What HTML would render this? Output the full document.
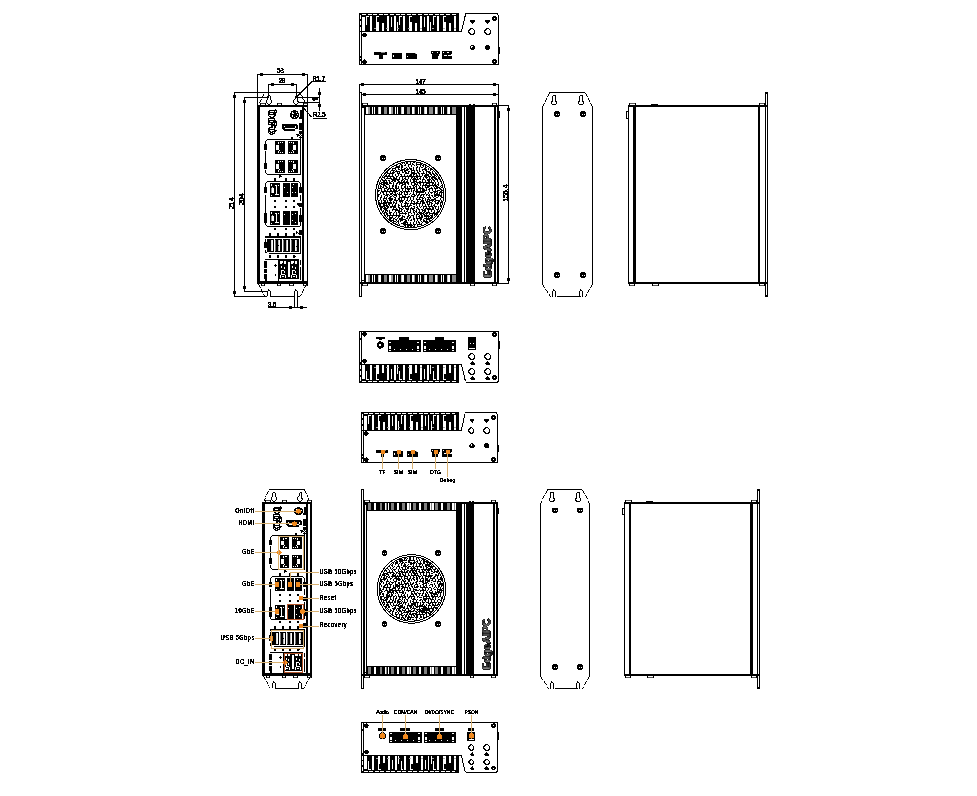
<!DOCTYPE html>
<html lang="en"><head><meta charset="utf-8"><title>Dimensions and I/O</title>
<style>
html,body{margin:0;padding:0;background:#fff;}
body{width:977px;height:796px;overflow:hidden;}
svg{display:block;font-family:"Liberation Sans",sans-serif;}
</style></head><body>
<svg width="977" height="796" viewBox="0 0 977 796" shape-rendering="crispEdges">
<defs><filter id="th" x="-10%" y="-10%" width="120%" height="120%" color-interpolation-filters="sRGB"><feComponentTransfer><feFuncA type="discrete" tableValues="0 0 1 1 1"/></feComponentTransfer></filter></defs>
<rect width="977" height="796" fill="#fff"/>
<path fill="#000" d="M359 13h1v52h-1zM359 64h140v1h-140zM498 15h1v50h-1zM466 13h32v1h-32zM497 14h1v1h-1zM361 13h1v52h-1zM360 16h1v2h-1zM360 20h1v2h-1zM360 25h1v2h-1zM360 56h1v2h-1zM360 59h1v2h-1zM359 13h100v19h-100z"/>
<path fill="#fff" d="M362 14h4v1h-4zM368 14h4v1h-4zM373 14h4v1h-4zM379 14h4v1h-4zM384 14h4v1h-4zM390 14h4v1h-4zM396 14h4v1h-4zM401 14h4v1h-4zM407 14h4v1h-4zM412 14h4v1h-4zM418 14h4v1h-4zM424 14h4v1h-4zM429 14h4v1h-4zM435 14h4v1h-4zM440 14h4v1h-4zM446 14h4v1h-4zM452 14h4v1h-4zM362 17h3v14h-3zM360 15h1v4h-1zM360 21h1v4h-1zM360 27h1v4h-1zM366 16h1v9h-1zM366 16h3v1h-3zM370 16h2v15h-2zM376 17h1v14h-1zM376 16h3v1h-3zM377 22h2v9h-2zM382 23h2v8h-2zM387 16h2v15h-2zM388 27h1v4h-1zM391 17h1v10h-1zM394 16h2v15h-2zM397 22h1v9h-1zM399 16h1v9h-1zM399 16h3v1h-3zM403 16h2v15h-2zM409 17h1v14h-1zM409 16h3v1h-3zM410 22h2v9h-2zM415 23h2v8h-2zM420 16h2v15h-2zM421 27h1v4h-1zM424 17h1v10h-1zM427 16h2v15h-2zM430 22h1v9h-1zM433 16h1v9h-1zM433 16h3v1h-3zM437 16h2v15h-2zM443 17h1v14h-1zM443 16h3v1h-3zM444 22h2v9h-2zM449 23h2v8h-2zM454 16h2v15h-2zM455 27h1v4h-1z"/>
<path fill="#aaa" d="M374 28h2v1h-2zM386 28h2v1h-2zM397 28h2v1h-2zM408 28h2v1h-2zM420 28h2v1h-2zM432 28h2v1h-2zM443 28h2v1h-2zM454 28h2v1h-2z"/>
<path fill="#000" d="M459 31h3v1h-3z"/>
<line x1="461.50" y1="31.50" x2="465.50" y2="14.50" stroke="#000" stroke-width="1"/>
<path fill="#000" d="M465 13h2v1h-2zM499 47h1v7h-1zM363 33h3v1h-3zM362 34h5v1h-5zM362 35h5v1h-5zM363 36h3v1h-3zM364 59h1v1h-1zM363 60h3v1h-3zM362 61h5v1h-5zM362 62h5v1h-5zM363 63h3v1h-3zM493 16h3v1h-3zM492 17h5v1h-5zM492 18h5v1h-5zM492 19h5v1h-5zM493 20h3v1h-3z"/>
<path fill="#fff" d="M494 18h1v1h-1z"/>
<path fill="#000" d="M493 59h3v1h-3zM492 60h5v1h-5zM492 61h5v1h-5zM492 62h5v1h-5zM493 63h3v1h-3z"/>
<path fill="#fff" d="M494 61h1v1h-1z"/>
<path fill="#000" d="M374 52h13v3h-13zM379 55h4v4h-4z"/>
<path fill="#888" d="M381 52h4v1h-4z"/>
<path fill="#000" d="M392 53h10v6h-10z"/>
<path fill="#fff" d="M393 55h1v2h-1z"/>
<path fill="#000" d="M406 53h11v6h-11z"/>
<path fill="#fff" d="M407 56h1v1h-1zM416 53h1v1h-1z"/>
<path fill="#999" d="M415 53h1v1h-1z"/>
<path fill="#000" d="M431 51h9v3h-9zM432 54h7v2h-7zM432 56h6v3h-6z"/>
<path fill="#fff" d="M432 52h1v1h-1zM437 52h1v1h-1z"/>
<path fill="#000" d="M442 51h10v8h-10z"/>
<path fill="#fff" d="M443 52h1v1h-1zM447 52h2v1h-2zM444 55h3v1h-3zM448 55h4v1h-4zM451 54h1v1h-1z"/>
<path fill="#000" d="M470 20h5v1h-5zM470 21h5v1h-5zM471 22h3v1h-3zM472 23h1v1h-1zM470 28h3v1h-3zM469 29h2v1h-2zM473 29h1v1h-1zM468 30h2v1h-2zM474 30h1v1h-1zM468 31h1v1h-1zM474 31h1v1h-1zM468 32h2v1h-2zM474 32h1v1h-1zM469 33h2v1h-2zM473 33h2v1h-2zM470 34h4v1h-4zM485 20h5v1h-5zM485 21h5v1h-5zM486 22h3v1h-3zM487 23h1v1h-1zM486 28h3v1h-3zM485 29h2v1h-2zM489 29h1v1h-1zM484 30h2v1h-2zM490 30h1v1h-1zM484 31h1v1h-1zM490 31h1v1h-1zM484 32h2v1h-2zM490 32h1v1h-1zM485 33h2v1h-2zM489 33h2v1h-2zM486 34h4v1h-4zM471 45h3v1h-3zM470 46h5v1h-5zM470 47h5v1h-5zM470 48h5v1h-5zM471 49h3v1h-3z"/>
<path fill="#fff" d="M471 46h2v2h-2z"/>
<path fill="#000" d="M472 47h1v1h-1zM486 45h3v1h-3zM485 46h5v1h-5zM485 47h5v1h-5zM485 48h5v1h-5zM486 49h3v1h-3zM264 92h37v1h-37zM263 94h1v1h-1zM263 95h1v1h-1zM262 96h1v1h-1zM262 97h1v1h-1zM261 99h1v1h-1zM260 100h1v1h-1zM260 101h1v1h-1zM259 102h1v1h-1zM300 93h1v1h-1zM300 94h1v1h-1zM301 95h1v1h-1zM302 96h1v1h-1zM302 98h1v1h-1zM303 99h1v1h-1zM304 100h1v1h-1zM304 101h1v1h-1zM305 103h1v1h-1zM268 95h2v1h-2zM267 96h1v1h-1zM270 96h1v1h-1zM267 97h1v1h-1zM270 97h1v1h-1zM267 98h1v1h-1zM270 98h1v1h-1zM267 99h1v1h-1zM270 99h1v1h-1zM266 100h1v1h-1zM271 100h1v1h-1zM266 101h1v1h-1zM271 101h1v1h-1zM266 102h1v1h-1zM271 102h1v1h-1zM267 103h1v1h-1zM270 103h1v1h-1zM268 104h2v1h-2zM296 95h2v1h-2zM295 96h1v1h-1zM297 96h1v1h-1zM295 97h1v1h-1zM297 97h1v1h-1zM295 98h1v1h-1zM297 98h1v1h-1zM294 99h1v1h-1zM297 99h1v1h-1zM293 100h1v1h-1zM297 100h1v1h-1zM293 101h1v1h-1zM297 101h2v1h-2zM293 102h1v1h-1zM298 102h1v1h-1zM294 103h1v1h-1zM297 103h1v1h-1zM295 104h2v1h-2z"/>
<path fill="#444" d="M260 103h6v1h-6z"/>
<path fill="#000" d="M260 103h1v2h-1zM265 103h1v2h-1z"/>
<path fill="#444" d="M277 103h5v1h-5z"/>
<path fill="#000" d="M277 103h1v2h-1zM281 103h1v2h-1z"/>
<path fill="#444" d="M303 103h5v1h-5z"/>
<path fill="#000" d="M303 103h1v2h-1zM307 103h1v2h-1zM257 105h3v179h-3zM257 105h51v2h-51zM302 105h2v179h-2zM307 105h1v179h-1zM257 281h51v3h-51zM275 109h1v1h-1zM269 110h8v1h-8zM268 111h2v1h-2zM274 111h1v1h-1zM276 111h1v1h-1zM268 112h9v1h-9zM268 113h2v1h-2zM273 113h3v1h-3zM268 114h8v1h-8zM268 115h1v1h-1zM274 115h2v1h-2zM269 116h2v1h-2zM273 116h2v1h-2zM270 117h4v1h-4zM268 118h7v1h-7zM268 119h1v1h-1zM274 119h1v1h-1zM268 120h8v1h-8zM268 121h2v1h-2zM273 121h4v1h-4zM268 122h9v1h-9zM268 123h1v1h-1zM271 123h2v1h-2zM274 123h1v1h-1zM276 123h1v1h-1zM268 124h7v1h-7zM276 124h1v1h-1zM271 125h6v1h-6zM271 126h2v1h-2zM274 126h2v1h-2zM269 127h4v1h-4zM274 127h2v1h-2zM268 128h2v1h-2zM274 128h1v1h-1zM268 129h7v1h-7zM268 130h2v1h-2zM274 130h3v1h-3zM268 131h3v1h-3zM272 131h4v1h-4zM268 132h1v1h-1zM270 132h3v1h-3zM274 132h1v1h-1zM269 133h2v1h-2zM272 133h3v1h-3zM270 134h3v1h-3zM293 110h3v1h-3zM291 111h7v1h-7zM291 112h1v1h-1zM293 112h3v1h-3zM297 112h1v1h-1zM290 113h2v1h-2zM294 113h5v1h-5zM290 114h7v1h-7zM298 114h1v1h-1zM290 115h2v1h-2zM293 115h6v1h-6zM290 116h2v1h-2zM293 116h3v1h-3zM297 116h2v1h-2zM291 117h3v1h-3zM295 117h3v1h-3zM292 118h5v1h-5zM300 110h2v9h-2zM299 117h3v2h-3zM299 123h3v7h-3zM299 131h3v3h-3zM282 124h15v1h-15zM282 125h16v1h-16zM282 126h2v1h-2zM285 126h10v1h-10zM296 126h2v1h-2zM282 127h13v1h-13zM296 127h2v1h-2zM282 128h3v1h-3zM295 128h3v1h-3zM283 129h12v1h-12zM284 130h11v1h-11zM296 134h3v1h-3zM297 135h2v1h-2zM297 136h1v1h-1zM299 134h3v4h-3z"/>
<path fill="#fff" d="M299 134h1v1h-1zM301 134h1v1h-1zM300 135h1v1h-1zM299 136h1v1h-1zM301 136h1v1h-1z"/>
<path fill="#000" d="M267 139h34v1h-34zM265 141h1v3h-1zM265 151h1v12h-1zM265 170h1v3h-1zM267 174h34v1h-34zM266 140h1v1h-1zM266 173h1v1h-1zM300 138h1v37h-1zM291 137h2v2h-2zM264 144h3v6h-3zM264 163h3v6h-3zM275 141h10v13h-10z"/>
<path fill="#fff" d="M276 145h3v5h-3zM278 142h1v2h-1zM280 142h1v1h-1zM282 142h1v1h-1zM278 151h1v2h-1zM280 152h1v1h-1zM282 152h1v1h-1zM279 150h1v1h-1z"/>
<path fill="#000" d="M288 141h10v13h-10z"/>
<path fill="#fff" d="M293 145h3v5h-3zM293 142h1v2h-1zM291 142h1v1h-1zM289 142h1v1h-1zM293 151h1v2h-1zM291 152h1v1h-1zM289 152h1v1h-1zM292 150h1v1h-1z"/>
<path fill="#000" d="M275 160h10v13h-10z"/>
<path fill="#fff" d="M276 164h3v5h-3zM278 161h1v2h-1zM280 161h1v1h-1zM282 161h1v1h-1zM278 170h1v2h-1zM280 171h1v1h-1zM282 171h1v1h-1zM279 169h1v1h-1z"/>
<path fill="#000" d="M288 160h10v13h-10z"/>
<path fill="#fff" d="M293 164h3v5h-3zM293 161h1v2h-1zM291 161h1v1h-1zM289 161h1v1h-1zM293 170h1v2h-1zM291 171h1v1h-1zM289 171h1v1h-1zM292 169h1v1h-1z"/>
<path fill="#000" d="M279 175h2v2h-2zM279 177h1v1h-1zM281 176h1v1h-1zM274 178h2v3h-2zM285 178h2v3h-2zM293 178h2v3h-2zM267 181h32v1h-32zM266 182h1v1h-1zM265 183h1v4h-1zM265 195h1v18h-1zM265 223h1v2h-1zM266 225h1v1h-1zM267 226h33v1h-33zM299 182h1v1h-1zM300 183h1v4h-1zM300 195h1v6h-1zM300 208h1v7h-1zM300 222h1v4h-1zM264 187h3v6h-3zM264 213h3v10h-3zM299 187h3v6h-3zM299 203h3v4h-3zM299 215h3v7h-3zM297 203h2v1h-2zM297 204h2v1h-2zM298 205h1v1h-1zM270 183h10v14h-10z"/>
<path fill="#fff" d="M271 184h1v2h-1zM278 185h1v1h-1z"/>
<path fill="#999" d="M271 188h1v5h-1z"/>
<path fill="#fff" d="M272 188h2v5h-2z"/>
<path fill="#bbb" d="M272 187h1v1h-1z"/>
<path fill="#fff" d="M275 185h2v1h-2zM276 186h1v8h-1zM275 194h4v1h-4zM271 195h1v1h-1z"/>
<path fill="#000" d="M270 211h10v14h-10z"/>
<path fill="#fff" d="M271 212h1v2h-1zM278 213h1v1h-1z"/>
<path fill="#999" d="M271 216h1v5h-1z"/>
<path fill="#fff" d="M272 216h2v5h-2z"/>
<path fill="#bbb" d="M272 215h1v1h-1z"/>
<path fill="#fff" d="M275 213h2v1h-2zM276 214h1v8h-1zM275 222h4v1h-4zM271 223h1v1h-1z"/>
<path fill="#000" d="M283 183h7v14h-7z"/>
<path fill="#fff" d="M284 187h1v1h-1zM287 192h1v1h-1z"/>
<path fill="#000" d="M291 183h7v14h-7z"/>
<path fill="#fff" d="M293 184h1v1h-1zM292 187h1v1h-1zM292 192h1v1h-1zM295 192h1v1h-1z"/>
<path fill="#000" d="M283 211h7v14h-7z"/>
<path fill="#fff" d="M284 214h1v1h-1z"/>
<path fill="#000" d="M291 211h7v14h-7z"/>
<path fill="#fff" d="M295 213h1v1h-1zM292 214h1v1h-1zM292 220h1v1h-1zM295 222h1v1h-1z"/>
<path fill="#000" d="M274 200h2v2h-2zM285 200h2v2h-2zM293 200h2v2h-2zM274 206h2v2h-2zM285 206h2v2h-2zM293 206h2v2h-2zM274 228h2v2h-2zM285 228h2v2h-2zM293 228h2v2h-2zM299 230h3v5h-3zM296 231h1v3h-1zM297 232h1v1h-1zM298 233h1v1h-1zM269 233h2v3h-2zM277 233h2v3h-2zM285 233h2v3h-2zM293 233h2v3h-2zM265 236h36v2h-36zM300 238h1v15h-1zM269 253h32v1h-32zM264 242h4v6h-4zM265 239h1v3h-1zM265 250h1v3h-1zM266 252h1v1h-1zM267 239h7v13h-7zM275 239h7v13h-7zM283 239h7v13h-7zM291 239h7v13h-7z"/>
<path fill="#fff" d="M271 240h2v11h-2z"/>
<path fill="#ddd" d="M271 240h1v11h-1z"/>
<path fill="#777" d="M275 240h1v11h-1z"/>
<path fill="#fff" d="M279 240h1v11h-1z"/>
<path fill="#bbb" d="M278 240h1v11h-1z"/>
<path fill="#000" d="M278 245h1v1h-1z"/>
<path fill="#777" d="M283 240h1v11h-1z"/>
<path fill="#fff" d="M287 240h1v11h-1z"/>
<path fill="#bbb" d="M286 240h1v11h-1z"/>
<path fill="#777" d="M291 240h1v11h-1z"/>
<path fill="#fff" d="M295 240h1v11h-1z"/>
<path fill="#ccc" d="M296 240h1v11h-1z"/>
<path fill="#000" d="M296 246h1v1h-1zM298 239h1v13h-1zM269 255h2v3h-2zM277 255h2v3h-2zM285 255h2v3h-2zM293 255h2v3h-2zM295 256h1v1h-1zM265 259h34v1h-34zM264 261h3v7h-3zM264 269h3v4h-3zM264 274h3v5h-3zM265 279h2v2h-2zM278 260h1v22h-1zM267 281h12v1h-12zM275 264h1v3h-1zM274 265h3v1h-3zM275 274h1v2h-1zM279 260h20v19h-20z"/>
<path fill="#fff" d="M280 261h3v3h-3zM284 261h2v3h-2z"/>
<path fill="#000" d="M282 263h1v1h-1z"/>
<path fill="#fff" d="M281 266h1v2h-1zM284 267h1v2h-1zM281 270h3v1h-3zM281 271h1v3h-1zM284 271h1v2h-1zM281 274h4v1h-4zM282 276h2v1h-2zM280 275h1v3h-1zM285 275h1v3h-1zM291 261h3v3h-3zM295 261h2v3h-2z"/>
<path fill="#000" d="M293 263h1v1h-1z"/>
<path fill="#fff" d="M292 266h1v2h-1zM295 267h1v2h-1zM292 270h3v1h-3zM292 271h1v3h-1zM295 271h1v2h-1zM292 274h4v1h-4zM293 276h2v1h-2zM291 275h1v3h-1zM296 275h1v3h-1zM288 262h2v15h-2z"/>
<path fill="#000" d="M300 260h1v5h-1zM300 267h1v13h-1z"/>
<path fill="#444" d="M261 285h4v1h-4z"/>
<path fill="#000" d="M261 284h1v2h-1zM264 284h1v2h-1z"/>
<path fill="#444" d="M277 285h4v1h-4z"/>
<path fill="#000" d="M277 284h1v2h-1zM280 284h1v2h-1z"/>
<path fill="#444" d="M289 285h5v1h-5z"/>
<path fill="#000" d="M289 284h1v2h-1zM293 284h1v2h-1z"/>
<path fill="#444" d="M303 285h5v1h-5z"/>
<path fill="#000" d="M303 284h1v2h-1zM307 284h1v2h-1zM258 284h1v1h-1zM259 285h1v1h-1zM259 286h1v1h-1zM260 287h1v1h-1zM261 289h1v1h-1zM261 290h1v1h-1zM262 291h1v1h-1zM262 292h1v1h-1zM263 294h1v1h-1zM264 295h1v1h-1zM306 284h1v1h-1zM305 285h1v1h-1zM305 286h1v1h-1zM304 287h1v1h-1zM303 289h1v1h-1zM303 290h1v1h-1zM302 291h1v1h-1zM302 292h1v1h-1zM301 294h1v1h-1zM300 295h1v1h-1zM271 296h23v1h-23zM298 296h2v1h-2zM267 291h1v5h-1zM270 291h1v6h-1zM268 290h2v1h-2zM268 289h1v1h-1zM294 291h1v6h-1zM297 291h1v6h-1zM295 290h2v1h-2zM295 289h1v1h-1zM257 74h51v1h-51zM257 74h1v31h-1zM307 74h1v31h-1zM260 73h3v3h-3zM302 73h3v3h-3z"/>
<text filter="url(#th)" transform="translate(280.50 73.00) scale(0.85 1)" font-size="7" text-anchor="middle" fill="#000" font-weight="normal" stroke="#000" stroke-width="0.4">53</text>
<path fill="#000" d="M268 84h29v1h-29zM268 84h1v14h-1zM296 84h1v14h-1zM271 83h3v3h-3zM291 83h3v3h-3z"/>
<text filter="url(#th)" transform="translate(282.00 83.00) scale(0.85 1)" font-size="7" text-anchor="middle" fill="#000" font-weight="normal" stroke="#000" stroke-width="0.4">29</text>
<path fill="#000" d="M234 92h31v1h-31zM234 92h1v205h-1zM233 95h3v3h-3zM233 291h3v3h-3zM234 296h33v1h-33zM244 97h25v1h-25zM244 97h1v195h-1zM243 100h3v3h-3zM243 286h3v3h-3zM244 291h24v1h-24z"/>
<text filter="url(#th)" transform="translate(234.00 203.40) rotate(-90) scale(0.98 1)" font-size="7" text-anchor="middle" fill="#000" font-weight="normal" stroke="#000" stroke-width="0.4">214</text>
<text filter="url(#th)" transform="translate(244.00 199.40) rotate(-90) scale(0.98 1)" font-size="7" text-anchor="middle" fill="#000" font-weight="normal" stroke="#000" stroke-width="0.4">204</text>
<text filter="url(#th)" transform="translate(312.50 81.00) scale(0.85 1)" font-size="7" text-anchor="start" fill="#000" font-weight="normal" stroke="#000" stroke-width="0.4">R1.7</text>
<path fill="#000" d="M312 81h14v1h-14z"/>
<line x1="312.00" y1="81.50" x2="298.00" y2="95.50" stroke="#000" stroke-width="1"/>
<text filter="url(#th)" transform="translate(313.00 117.00) scale(0.85 1)" font-size="7" text-anchor="start" fill="#000" font-weight="normal" stroke="#000" stroke-width="0.4">R2.5</text>
<path fill="#000" d="M313 118h14v1h-14z"/>
<line x1="311.50" y1="117.00" x2="304.00" y2="108.50" stroke="#000" stroke-width="1"/>
<path fill="#000" d="M319 88h1v23h-1zM318 92h3v3h-3zM318 104h3v3h-3zM297 97h23v1h-23zM299 102h21v1h-21z"/>
<text filter="url(#th)" transform="translate(317.50 99.00) rotate(-90) scale(0.85 1)" font-size="7" text-anchor="middle" fill="#000" font-weight="normal" stroke="#000" stroke-width="0.4">9</text>
<path fill="#000" d="M294 296h1v11h-1zM297 296h1v11h-1z"/>
<text filter="url(#th)" transform="translate(268.00 306.50) scale(0.85 1)" font-size="7" text-anchor="start" fill="#000" font-weight="normal" stroke="#000" stroke-width="0.4">3.5</text>
<path fill="#000" d="M268 307h39v1h-39zM289 306h3v3h-3zM300 306h3v3h-3zM359 92h1v205h-1zM361 92h1v205h-1zM359 92h3v1h-3zM359 296h3v1h-3zM364 105h1v179h-1zM362 105h137v2h-137zM359 282h140v2h-140z"/>
<path fill="#555" d="M362 103h6v1h-6z"/>
<path fill="#000" d="M362 103h1v2h-1zM367 103h1v2h-1z"/>
<path fill="#555" d="M362 285h6v1h-6z"/>
<path fill="#000" d="M362 284h1v2h-1zM367 284h1v2h-1zM361 107h3v1h-3zM361 280h3v1h-3zM365 105h91v10h-91z"/>
<path fill="#fff" d="M366 107h2v7h-2z"/>
<path fill="#9a9a9a" d="M368 107h2v7h-2z"/>
<path fill="#fff" d="M372 107h1v7h-1zM374 107h1v7h-1z"/>
<path fill="#ccc" d="M378 107h1v7h-1z"/>
<path fill="#fff" d="M379 107h2v7h-2z"/>
<path fill="#8c8c8c" d="M384 107h3v7h-3z"/>
<path fill="#fff" d="M389 107h2v7h-2z"/>
<path fill="#9a9a9a" d="M391 107h2v7h-2z"/>
<path fill="#fff" d="M395 107h1v7h-1zM397 107h1v7h-1z"/>
<path fill="#ccc" d="M401 107h1v7h-1z"/>
<path fill="#fff" d="M402 107h2v7h-2z"/>
<path fill="#8c8c8c" d="M407 107h3v7h-3z"/>
<path fill="#fff" d="M412 107h2v7h-2z"/>
<path fill="#9a9a9a" d="M414 107h1v7h-1z"/>
<path fill="#fff" d="M418 107h1v7h-1zM420 107h1v7h-1z"/>
<path fill="#ccc" d="M424 107h1v7h-1z"/>
<path fill="#fff" d="M425 107h2v7h-2z"/>
<path fill="#8c8c8c" d="M429 107h4v7h-4z"/>
<path fill="#fff" d="M435 107h2v7h-2z"/>
<path fill="#9a9a9a" d="M437 107h1v7h-1z"/>
<path fill="#fff" d="M441 107h1v7h-1zM443 107h1v7h-1z"/>
<path fill="#ccc" d="M447 107h1v7h-1z"/>
<path fill="#fff" d="M448 107h2v7h-2z"/>
<path fill="#8c8c8c" d="M452 107h4v7h-4z"/>
<path fill="#000" d="M365 274h91v10h-91z"/>
<path fill="#fff" d="M366 275h2v7h-2z"/>
<path fill="#9a9a9a" d="M368 275h2v7h-2z"/>
<path fill="#fff" d="M372 275h1v7h-1zM374 275h1v7h-1z"/>
<path fill="#ccc" d="M378 275h1v7h-1z"/>
<path fill="#fff" d="M379 275h2v7h-2z"/>
<path fill="#8c8c8c" d="M384 275h3v7h-3z"/>
<path fill="#fff" d="M389 275h2v7h-2z"/>
<path fill="#9a9a9a" d="M391 275h2v7h-2z"/>
<path fill="#fff" d="M395 275h1v7h-1zM397 275h1v7h-1z"/>
<path fill="#ccc" d="M401 275h1v7h-1z"/>
<path fill="#fff" d="M402 275h2v7h-2z"/>
<path fill="#8c8c8c" d="M407 275h3v7h-3z"/>
<path fill="#fff" d="M412 275h2v7h-2z"/>
<path fill="#9a9a9a" d="M414 275h1v7h-1z"/>
<path fill="#fff" d="M418 275h1v7h-1zM420 275h1v7h-1z"/>
<path fill="#ccc" d="M424 275h1v7h-1z"/>
<path fill="#fff" d="M425 275h2v7h-2z"/>
<path fill="#8c8c8c" d="M429 275h4v7h-4z"/>
<path fill="#fff" d="M435 275h2v7h-2z"/>
<path fill="#9a9a9a" d="M437 275h1v7h-1z"/>
<path fill="#fff" d="M441 275h1v7h-1zM443 275h1v7h-1z"/>
<path fill="#ccc" d="M447 275h1v7h-1z"/>
<path fill="#fff" d="M448 275h2v7h-2z"/>
<path fill="#8c8c8c" d="M452 275h4v7h-4z"/>
<path fill="#000" d="M456 105h6v179h-6zM464 105h1v179h-1zM466 105h9v179h-9zM469 104h2v1h-2zM473 104h2v1h-2zM494 105h2v179h-2zM497 105h2v179h-2zM499 111h1v7h-1z"/>
<path fill="#555" d="M492 103h5v1h-5z"/>
<path fill="#000" d="M492 103h1v2h-1zM496 103h1v2h-1z"/>
<path fill="#555" d="M470 285h5v1h-5z"/>
<path fill="#000" d="M470 284h1v2h-1zM474 284h1v2h-1z"/>
<path fill="#555" d="M492 285h5v1h-5z"/>
<path fill="#000" d="M492 284h1v2h-1zM496 284h1v2h-1zM381 155h4v1h-4zM380 156h6v1h-6zM380 157h6v1h-6zM380 158h2v1h-2zM383 158h1v1h-1zM385 158h1v1h-1zM380 159h6v1h-6zM381 160h4v1h-4zM436 155h4v1h-4zM435 156h6v1h-6zM435 157h6v1h-6zM435 158h2v1h-2zM438 158h1v1h-1zM440 158h1v1h-1zM435 159h6v1h-6zM436 160h4v1h-4zM381 228h4v1h-4zM380 229h6v1h-6zM380 230h6v1h-6zM380 231h2v1h-2zM383 231h1v1h-1zM385 231h1v1h-1zM380 232h6v1h-6zM381 233h4v1h-4zM436 228h4v1h-4zM435 229h6v1h-6zM435 230h6v1h-6zM435 231h2v1h-2zM438 231h1v1h-1zM440 231h1v1h-1zM435 232h6v1h-6zM436 233h4v1h-4zM405 159h12v1h-12zM400 160h5v1h-5zM416 160h5v1h-5zM397 161h4v1h-4zM405 161h11v1h-11zM421 161h3v1h-3zM395 162h3v1h-3zM401 162h4v1h-4zM406 162h2v1h-2zM410 162h1v1h-1zM413 162h2v1h-2zM416 162h5v1h-5zM424 162h2v1h-2zM393 163h2v1h-2zM398 163h3v1h-3zM402 163h1v1h-1zM404 163h1v1h-1zM406 163h2v1h-2zM410 163h1v1h-1zM412 163h1v1h-1zM416 163h1v1h-1zM420 163h3v1h-3zM426 163h2v1h-2zM392 164h2v1h-2zM396 164h2v1h-2zM400 164h2v1h-2zM405 164h1v1h-1zM408 164h3v1h-3zM412 164h2v1h-2zM416 164h6v1h-6zM423 164h3v1h-3zM428 164h2v1h-2zM390 165h2v1h-2zM394 165h3v1h-3zM399 165h1v1h-1zM401 165h2v1h-2zM404 165h2v1h-2zM408 165h1v1h-1zM411 165h1v1h-1zM414 165h1v1h-1zM416 165h1v1h-1zM420 165h1v1h-1zM422 165h2v1h-2zM425 165h2v1h-2zM429 165h2v1h-2zM389 166h1v1h-1zM392 166h2v1h-2zM396 166h4v1h-4zM401 166h2v1h-2zM408 166h1v1h-1zM411 166h1v1h-1zM417 166h1v1h-1zM420 166h1v1h-1zM423 166h1v1h-1zM425 166h1v1h-1zM427 166h2v1h-2zM431 166h1v1h-1zM388 167h1v1h-1zM391 167h1v1h-1zM395 167h5v1h-5zM401 167h2v1h-2zM406 167h1v1h-1zM409 167h1v1h-1zM413 167h1v1h-1zM416 167h2v1h-2zM419 167h1v1h-1zM421 167h2v1h-2zM425 167h2v1h-2zM429 167h1v1h-1zM432 167h2v1h-2zM386 168h2v1h-2zM389 168h2v1h-2zM392 168h4v1h-4zM398 168h1v1h-1zM401 168h1v1h-1zM404 168h2v1h-2zM407 168h1v1h-1zM409 168h3v1h-3zM413 168h1v1h-1zM416 168h1v1h-1zM419 168h1v1h-1zM424 168h2v1h-2zM428 168h1v1h-1zM430 168h2v1h-2zM433 168h2v1h-2zM385 169h2v1h-2zM388 169h2v1h-2zM392 169h1v1h-1zM395 169h1v1h-1zM398 169h2v1h-2zM401 169h4v1h-4zM406 169h3v1h-3zM410 169h2v1h-2zM413 169h1v1h-1zM416 169h1v1h-1zM419 169h1v1h-1zM422 169h5v1h-5zM428 169h1v1h-1zM430 169h3v1h-3zM434 169h2v1h-2zM384 170h2v1h-2zM387 170h2v1h-2zM391 170h4v1h-4zM396 170h1v1h-1zM400 170h3v1h-3zM404 170h4v1h-4zM411 170h4v1h-4zM416 170h2v1h-2zM419 170h1v1h-1zM422 170h1v1h-1zM425 170h2v1h-2zM430 170h1v1h-1zM433 170h1v1h-1zM435 170h2v1h-2zM384 171h1v1h-1zM386 171h2v1h-2zM390 171h1v1h-1zM393 171h1v1h-1zM395 171h5v1h-5zM402 171h1v1h-1zM404 171h2v1h-2zM408 171h2v1h-2zM411 171h1v1h-1zM414 171h1v1h-1zM417 171h1v1h-1zM419 171h2v1h-2zM423 171h1v1h-1zM426 171h4v1h-4zM432 171h1v1h-1zM434 171h1v1h-1zM436 171h2v1h-2zM383 172h1v1h-1zM385 172h3v1h-3zM390 172h1v1h-1zM392 172h3v1h-3zM397 172h1v1h-1zM399 172h1v1h-1zM402 172h2v1h-2zM405 172h2v1h-2zM408 172h1v1h-1zM411 172h4v1h-4zM417 172h2v1h-2zM423 172h1v1h-1zM426 172h1v1h-1zM428 172h3v1h-3zM432 172h1v1h-1zM435 172h1v1h-1zM437 172h2v1h-2zM382 173h1v1h-1zM384 173h2v1h-2zM387 173h7v1h-7zM397 173h3v1h-3zM405 173h4v1h-4zM411 173h6v1h-6zM418 173h2v1h-2zM421 173h4v1h-4zM426 173h1v1h-1zM429 173h2v1h-2zM432 173h2v1h-2zM435 173h2v1h-2zM438 173h1v1h-1zM381 174h1v1h-1zM384 174h1v1h-1zM386 174h1v1h-1zM389 174h1v1h-1zM392 174h1v1h-1zM395 174h1v1h-1zM398 174h1v1h-1zM400 174h2v1h-2zM404 174h1v1h-1zM410 174h2v1h-2zM413 174h2v1h-2zM416 174h1v1h-1zM419 174h1v1h-1zM422 174h1v1h-1zM425 174h4v1h-4zM430 174h2v1h-2zM433 174h2v1h-2zM436 174h2v1h-2zM439 174h1v1h-1zM381 175h1v1h-1zM383 175h1v1h-1zM385 175h2v1h-2zM388 175h2v1h-2zM392 175h1v1h-1zM395 175h1v1h-1zM398 175h1v1h-1zM401 175h1v1h-1zM404 175h1v1h-1zM407 175h1v1h-1zM409 175h3v1h-3zM413 175h1v1h-1zM416 175h2v1h-2zM419 175h1v1h-1zM422 175h1v1h-1zM424 175h5v1h-5zM431 175h1v1h-1zM434 175h2v1h-2zM437 175h1v1h-1zM439 175h2v1h-2zM380 176h1v1h-1zM382 176h1v1h-1zM384 176h10v1h-10zM396 176h2v1h-2zM400 176h22v1h-22zM424 176h3v1h-3zM428 176h3v1h-3zM432 176h3v1h-3zM436 176h1v1h-1zM438 176h1v1h-1zM440 176h1v1h-1zM379 177h2v1h-2zM382 177h3v1h-3zM387 177h1v1h-1zM390 177h1v1h-1zM393 177h2v1h-2zM396 177h1v1h-1zM399 177h1v1h-1zM402 177h1v1h-1zM405 177h1v1h-1zM408 177h1v1h-1zM411 177h2v1h-2zM414 177h1v1h-1zM416 177h2v1h-2zM420 177h1v1h-1zM423 177h1v1h-1zM425 177h3v1h-3zM429 177h1v1h-1zM431 177h5v1h-5zM438 177h2v1h-2zM441 177h1v1h-1zM379 178h1v1h-1zM381 178h1v1h-1zM384 178h1v1h-1zM386 178h6v1h-6zM393 178h4v1h-4zM399 178h1v1h-1zM402 178h1v1h-1zM404 178h2v1h-2zM408 178h1v1h-1zM411 178h1v1h-1zM413 178h3v1h-3zM417 178h1v1h-1zM419 178h2v1h-2zM423 178h1v1h-1zM426 178h1v1h-1zM429 178h1v1h-1zM431 178h2v1h-2zM434 178h3v1h-3zM438 178h2v1h-2zM441 178h1v1h-1zM378 179h1v1h-1zM381 179h2v1h-2zM385 179h1v1h-1zM391 179h9v1h-9zM402 179h2v1h-2zM405 179h3v1h-3zM410 179h1v1h-1zM412 179h7v1h-7zM420 179h1v1h-1zM422 179h3v1h-3zM427 179h4v1h-4zM432 179h2v1h-2zM435 179h3v1h-3zM439 179h2v1h-2zM442 179h1v1h-1zM378 180h1v1h-1zM380 180h1v1h-1zM382 180h5v1h-5zM388 180h2v1h-2zM392 180h4v1h-4zM397 180h2v1h-2zM401 180h2v1h-2zM404 180h1v1h-1zM407 180h1v1h-1zM410 180h1v1h-1zM413 180h2v1h-2zM416 180h1v1h-1zM422 180h1v1h-1zM425 180h1v1h-1zM427 180h3v1h-3zM431 180h1v1h-1zM433 180h2v1h-2zM437 180h1v1h-1zM440 180h1v1h-1zM442 180h1v1h-1zM377 181h2v1h-2zM380 181h1v1h-1zM383 181h2v1h-2zM386 181h1v1h-1zM389 181h1v1h-1zM391 181h2v1h-2zM394 181h2v1h-2zM398 181h2v1h-2zM401 181h1v1h-1zM403 181h2v1h-2zM406 181h2v1h-2zM410 181h1v1h-1zM413 181h4v1h-4zM419 181h2v1h-2zM422 181h1v1h-1zM425 181h1v1h-1zM428 181h2v1h-2zM431 181h1v1h-1zM434 181h1v1h-1zM437 181h1v1h-1zM440 181h2v1h-2zM443 181h1v1h-1zM377 182h1v1h-1zM379 182h1v1h-1zM381 182h7v1h-7zM389 182h2v1h-2zM393 182h1v1h-1zM397 182h12v1h-12zM411 182h4v1h-4zM416 182h18v1h-18zM435 182h1v1h-1zM438 182h1v1h-1zM441 182h1v1h-1zM443 182h1v1h-1zM377 183h1v1h-1zM379 183h3v1h-3zM383 183h5v1h-5zM389 183h3v1h-3zM393 183h1v1h-1zM396 183h2v1h-2zM399 183h4v1h-4zM404 183h2v1h-2zM407 183h2v1h-2zM411 183h1v1h-1zM414 183h2v1h-2zM417 183h1v1h-1zM419 183h2v1h-2zM423 183h1v1h-1zM426 183h4v1h-4zM432 183h2v1h-2zM435 183h1v1h-1zM438 183h1v1h-1zM441 183h1v1h-1zM443 183h1v1h-1zM376 184h2v1h-2zM379 184h1v1h-1zM381 184h4v1h-4zM386 184h3v1h-3zM393 184h1v1h-1zM396 184h1v1h-1zM399 184h1v1h-1zM402 184h4v1h-4zM408 184h1v1h-1zM411 184h1v1h-1zM414 184h4v1h-4zM420 184h1v1h-1zM423 184h1v1h-1zM425 184h2v1h-2zM429 184h1v1h-1zM432 184h1v1h-1zM434 184h2v1h-2zM437 184h2v1h-2zM442 184h1v1h-1zM444 184h1v1h-1zM376 185h1v1h-1zM378 185h1v1h-1zM380 185h1v1h-1zM383 185h3v1h-3zM389 185h1v1h-1zM392 185h2v1h-2zM395 185h2v1h-2zM401 185h2v1h-2zM405 185h1v1h-1zM412 185h3v1h-3zM416 185h1v1h-1zM418 185h1v1h-1zM420 185h1v1h-1zM422 185h15v1h-15zM438 185h1v1h-1zM441 185h2v1h-2zM444 185h1v1h-1zM376 186h1v1h-1zM378 186h1v1h-1zM380 186h2v1h-2zM383 186h1v1h-1zM385 186h2v1h-2zM389 186h1v1h-1zM392 186h2v1h-2zM395 186h2v1h-2zM398 186h1v1h-1zM401 186h1v1h-1zM404 186h2v1h-2zM407 186h1v1h-1zM409 186h2v1h-2zM413 186h1v1h-1zM415 186h2v1h-2zM419 186h1v1h-1zM422 186h1v1h-1zM425 186h1v1h-1zM427 186h3v1h-3zM433 186h1v1h-1zM435 186h3v1h-3zM440 186h1v1h-1zM442 186h1v1h-1zM444 186h1v1h-1zM376 187h1v1h-1zM378 187h1v1h-1zM380 187h1v1h-1zM382 187h2v1h-2zM386 187h2v1h-2zM389 187h1v1h-1zM392 187h1v1h-1zM395 187h2v1h-2zM398 187h1v1h-1zM401 187h1v1h-1zM404 187h2v1h-2zM407 187h1v1h-1zM410 187h1v1h-1zM413 187h2v1h-2zM416 187h1v1h-1zM419 187h2v1h-2zM422 187h1v1h-1zM425 187h4v1h-4zM431 187h1v1h-1zM434 187h1v1h-1zM436 187h4v1h-4zM441 187h2v1h-2zM444 187h1v1h-1zM376 188h1v1h-1zM378 188h4v1h-4zM384 188h3v1h-3zM388 188h6v1h-6zM395 188h4v1h-4zM401 188h3v1h-3zM405 188h10v1h-10zM416 188h1v1h-1zM418 188h6v1h-6zM426 188h1v1h-1zM429 188h4v1h-4zM434 188h4v1h-4zM439 188h2v1h-2zM443 188h1v1h-1zM445 188h1v1h-1zM375 189h1v1h-1zM377 189h1v1h-1zM381 189h1v1h-1zM384 189h1v1h-1zM387 189h2v1h-2zM390 189h1v1h-1zM393 189h2v1h-2zM396 189h1v1h-1zM399 189h1v1h-1zM402 189h1v1h-1zM405 189h1v1h-1zM407 189h3v1h-3zM411 189h1v1h-1zM414 189h1v1h-1zM416 189h2v1h-2zM420 189h1v1h-1zM422 189h3v1h-3zM426 189h1v1h-1zM428 189h2v1h-2zM432 189h1v1h-1zM435 189h1v1h-1zM440 189h2v1h-2zM443 189h1v1h-1zM445 189h1v1h-1zM375 190h1v1h-1zM377 190h3v1h-3zM381 190h1v1h-1zM384 190h2v1h-2zM387 190h1v1h-1zM390 190h2v1h-2zM393 190h4v1h-4zM398 190h2v1h-2zM402 190h1v1h-1zM405 190h1v1h-1zM408 190h1v1h-1zM411 190h1v1h-1zM413 190h2v1h-2zM416 190h2v1h-2zM420 190h1v1h-1zM422 190h5v1h-5zM429 190h1v1h-1zM432 190h1v1h-1zM435 190h1v1h-1zM437 190h3v1h-3zM441 190h3v1h-3zM445 190h1v1h-1zM375 191h1v1h-1zM377 191h2v1h-2zM381 191h17v1h-17zM400 191h2v1h-2zM403 191h7v1h-7zM411 191h1v1h-1zM413 191h1v1h-1zM415 191h10v1h-10zM429 191h1v1h-1zM433 191h5v1h-5zM440 191h2v1h-2zM443 191h1v1h-1zM445 191h1v1h-1zM375 192h1v1h-1zM377 192h1v1h-1zM380 192h1v1h-1zM382 192h2v1h-2zM386 192h1v1h-1zM389 192h1v1h-1zM392 192h1v1h-1zM394 192h2v1h-2zM399 192h1v1h-1zM401 192h2v1h-2zM404 192h1v1h-1zM406 192h2v1h-2zM413 192h1v1h-1zM416 192h8v1h-8zM425 192h1v1h-1zM428 192h1v1h-1zM430 192h3v1h-3zM434 192h2v1h-2zM437 192h1v1h-1zM439 192h5v1h-5zM445 192h1v1h-1zM375 193h1v1h-1zM377 193h1v1h-1zM380 193h1v1h-1zM383 193h1v1h-1zM386 193h1v1h-1zM390 193h3v1h-3zM395 193h1v1h-1zM397 193h1v1h-1zM399 193h1v1h-1zM401 193h1v1h-1zM404 193h1v1h-1zM407 193h1v1h-1zM410 193h1v1h-1zM413 193h1v1h-1zM416 193h1v1h-1zM419 193h1v1h-1zM425 193h1v1h-1zM428 193h1v1h-1zM431 193h1v1h-1zM434 193h1v1h-1zM436 193h2v1h-2zM439 193h1v1h-1zM441 193h1v1h-1zM443 193h1v1h-1zM445 193h1v1h-1zM375 194h1v1h-1zM377 194h3v1h-3zM383 194h2v1h-2zM386 194h3v1h-3zM390 194h2v1h-2zM393 194h4v1h-4zM398 194h4v1h-4zM404 194h4v1h-4zM409 194h1v1h-1zM412 194h3v1h-3zM416 194h1v1h-1zM418 194h2v1h-2zM421 194h4v1h-4zM426 194h2v1h-2zM429 194h1v1h-1zM434 194h6v1h-6zM441 194h1v1h-1zM443 194h1v1h-1zM445 194h1v1h-1zM375 195h1v1h-1zM377 195h2v1h-2zM381 195h1v1h-1zM385 195h3v1h-3zM389 195h1v1h-1zM392 195h1v1h-1zM394 195h3v1h-3zM399 195h1v1h-1zM402 195h1v1h-1zM405 195h1v1h-1zM411 195h1v1h-1zM414 195h2v1h-2zM417 195h2v1h-2zM420 195h2v1h-2zM423 195h1v1h-1zM426 195h1v1h-1zM428 195h2v1h-2zM431 195h2v1h-2zM434 195h8v1h-8zM443 195h1v1h-1zM445 195h1v1h-1zM375 196h1v1h-1zM377 196h2v1h-2zM381 196h1v1h-1zM384 196h1v1h-1zM387 196h1v1h-1zM390 196h2v1h-2zM393 196h1v1h-1zM396 196h1v1h-1zM399 196h1v1h-1zM402 196h4v1h-4zM408 196h2v1h-2zM411 196h4v1h-4zM417 196h1v1h-1zM420 196h1v1h-1zM423 196h1v1h-1zM429 196h1v1h-1zM432 196h1v1h-1zM434 196h2v1h-2zM438 196h1v1h-1zM440 196h2v1h-2zM443 196h1v1h-1zM445 196h1v1h-1zM375 197h1v1h-1zM377 197h1v1h-1zM380 197h2v1h-2zM384 197h1v1h-1zM386 197h1v1h-1zM389 197h2v1h-2zM394 197h2v1h-2zM399 197h10v1h-10zM410 197h1v1h-1zM413 197h1v1h-1zM417 197h1v1h-1zM419 197h4v1h-4zM424 197h1v1h-1zM427 197h4v1h-4zM433 197h1v1h-1zM436 197h2v1h-2zM441 197h3v1h-3zM445 197h1v1h-1zM375 198h1v1h-1zM377 198h1v1h-1zM380 198h1v1h-1zM383 198h4v1h-4zM388 198h5v1h-5zM395 198h1v1h-1zM398 198h2v1h-2zM401 198h1v1h-1zM404 198h1v1h-1zM407 198h1v1h-1zM410 198h1v1h-1zM413 198h1v1h-1zM416 198h1v1h-1zM419 198h1v1h-1zM422 198h2v1h-2zM425 198h1v1h-1zM428 198h1v1h-1zM430 198h1v1h-1zM434 198h2v1h-2zM440 198h1v1h-1zM443 198h1v1h-1zM445 198h1v1h-1zM375 199h1v1h-1zM377 199h1v1h-1zM380 199h1v1h-1zM383 199h1v1h-1zM386 199h1v1h-1zM389 199h4v1h-4zM394 199h2v1h-2zM398 199h2v1h-2zM401 199h1v1h-1zM404 199h1v1h-1zM407 199h1v1h-1zM410 199h1v1h-1zM413 199h1v1h-1zM416 199h5v1h-5zM422 199h1v1h-1zM425 199h1v1h-1zM427 199h3v1h-3zM431 199h5v1h-5zM440 199h1v1h-1zM443 199h1v1h-1zM445 199h1v1h-1zM375 200h2v1h-2zM378 200h2v1h-2zM381 200h1v1h-1zM383 200h3v1h-3zM387 200h1v1h-1zM389 200h3v1h-3zM394 200h4v1h-4zM399 200h5v1h-5zM406 200h2v1h-2zM409 200h1v1h-1zM411 200h2v1h-2zM417 200h1v1h-1zM421 200h3v1h-3zM425 200h1v1h-1zM427 200h1v1h-1zM429 200h5v1h-5zM435 200h5v1h-5zM441 200h1v1h-1zM443 200h1v1h-1zM445 200h1v1h-1zM376 201h1v1h-1zM378 201h1v1h-1zM381 201h1v1h-1zM384 201h2v1h-2zM387 201h1v1h-1zM390 201h1v1h-1zM393 201h1v1h-1zM396 201h1v1h-1zM399 201h4v1h-4zM405 201h1v1h-1zM408 201h1v1h-1zM411 201h1v1h-1zM413 201h2v1h-2zM417 201h2v1h-2zM420 201h4v1h-4zM426 201h4v1h-4zM432 201h1v1h-1zM434 201h2v1h-2zM438 201h2v1h-2zM441 201h2v1h-2zM445 201h1v1h-1zM376 202h1v1h-1zM378 202h2v1h-2zM381 202h1v1h-1zM383 202h9v1h-9zM393 202h2v1h-2zM396 202h1v1h-1zM400 202h1v1h-1zM402 202h1v1h-1zM405 202h2v1h-2zM411 202h1v1h-1zM414 202h1v1h-1zM416 202h2v1h-2zM420 202h1v1h-1zM422 202h3v1h-3zM426 202h2v1h-2zM429 202h3v1h-3zM435 202h1v1h-1zM437 202h2v1h-2zM440 202h3v1h-3zM444 202h1v1h-1zM376 203h1v1h-1zM378 203h9v1h-9zM388 203h4v1h-4zM393 203h1v1h-1zM395 203h2v1h-2zM401 203h1v1h-1zM404 203h5v1h-5zM410 203h11v1h-11zM422 203h3v1h-3zM427 203h1v1h-1zM429 203h1v1h-1zM431 203h2v1h-2zM435 203h4v1h-4zM440 203h1v1h-1zM442 203h1v1h-1zM444 203h1v1h-1zM376 204h1v1h-1zM378 204h3v1h-3zM383 204h2v1h-2zM386 204h1v1h-1zM388 204h2v1h-2zM392 204h1v1h-1zM395 204h1v1h-1zM398 204h1v1h-1zM401 204h1v1h-1zM405 204h1v1h-1zM407 204h1v1h-1zM410 204h1v1h-1zM413 204h2v1h-2zM416 204h1v1h-1zM419 204h1v1h-1zM422 204h1v1h-1zM425 204h1v1h-1zM427 204h3v1h-3zM431 204h1v1h-1zM434 204h1v1h-1zM437 204h1v1h-1zM440 204h1v1h-1zM442 204h1v1h-1zM444 204h1v1h-1zM377 205h1v1h-1zM379 205h2v1h-2zM383 205h5v1h-5zM389 205h1v1h-1zM392 205h1v1h-1zM394 205h2v1h-2zM398 205h2v1h-2zM401 205h1v1h-1zM404 205h2v1h-2zM407 205h1v1h-1zM409 205h3v1h-3zM416 205h1v1h-1zM419 205h1v1h-1zM422 205h1v1h-1zM425 205h1v1h-1zM428 205h1v1h-1zM431 205h1v1h-1zM433 205h2v1h-2zM440 205h2v1h-2zM443 205h1v1h-1zM377 206h1v1h-1zM379 206h6v1h-6zM386 206h3v1h-3zM390 206h6v1h-6zM398 206h1v1h-1zM401 206h9v1h-9zM413 206h2v1h-2zM417 206h1v1h-1zM419 206h1v1h-1zM421 206h1v1h-1zM423 206h4v1h-4zM428 206h5v1h-5zM434 206h3v1h-3zM438 206h1v1h-1zM440 206h2v1h-2zM443 206h1v1h-1zM377 207h1v1h-1zM380 207h3v1h-3zM384 207h2v1h-2zM387 207h2v1h-2zM390 207h2v1h-2zM393 207h3v1h-3zM398 207h2v1h-2zM402 207h1v1h-1zM405 207h1v1h-1zM408 207h1v1h-1zM411 207h1v1h-1zM414 207h1v1h-1zM416 207h2v1h-2zM420 207h1v1h-1zM423 207h1v1h-1zM426 207h1v1h-1zM429 207h1v1h-1zM432 207h2v1h-2zM435 207h1v1h-1zM438 207h1v1h-1zM441 207h1v1h-1zM443 207h1v1h-1zM378 208h1v1h-1zM380 208h2v1h-2zM383 208h5v1h-5zM393 208h1v1h-1zM396 208h1v1h-1zM399 208h3v1h-3zM403 208h1v1h-1zM405 208h4v1h-4zM410 208h5v1h-5zM417 208h2v1h-2zM423 208h1v1h-1zM425 208h6v1h-6zM432 208h2v1h-2zM435 208h1v1h-1zM438 208h1v1h-1zM440 208h1v1h-1zM442 208h1v1h-1zM378 209h1v1h-1zM380 209h2v1h-2zM384 209h3v1h-3zM392 209h6v1h-6zM399 209h1v1h-1zM401 209h2v1h-2zM406 209h3v1h-3zM410 209h1v1h-1zM412 209h2v1h-2zM416 209h1v1h-1zM418 209h2v1h-2zM421 209h2v1h-2zM424 209h2v1h-2zM427 209h7v1h-7zM436 209h3v1h-3zM440 209h1v1h-1zM442 209h1v1h-1zM379 210h1v1h-1zM381 210h1v1h-1zM383 210h1v1h-1zM385 210h3v1h-3zM389 210h1v1h-1zM392 210h1v1h-1zM395 210h5v1h-5zM401 210h1v1h-1zM404 210h1v1h-1zM407 210h1v1h-1zM410 210h1v1h-1zM413 210h2v1h-2zM416 210h1v1h-1zM419 210h1v1h-1zM422 210h4v1h-4zM428 210h1v1h-1zM431 210h1v1h-1zM434 210h1v1h-1zM437 210h1v1h-1zM439 210h1v1h-1zM441 210h1v1h-1zM379 211h1v1h-1zM382 211h2v1h-2zM385 211h1v1h-1zM387 211h1v1h-1zM389 211h1v1h-1zM395 211h1v1h-1zM398 211h4v1h-4zM404 211h1v1h-1zM406 211h2v1h-2zM410 211h1v1h-1zM413 211h1v1h-1zM415 211h2v1h-2zM419 211h1v1h-1zM422 211h1v1h-1zM424 211h2v1h-2zM428 211h1v1h-1zM431 211h1v1h-1zM434 211h1v1h-1zM437 211h3v1h-3zM441 211h1v1h-1zM380 212h1v1h-1zM382 212h1v1h-1zM384 212h3v1h-3zM389 212h3v1h-3zM394 212h1v1h-1zM396 212h1v1h-1zM398 212h2v1h-2zM402 212h1v1h-1zM405 212h1v1h-1zM408 212h3v1h-3zM413 212h2v1h-2zM416 212h1v1h-1zM418 212h4v1h-4zM423 212h2v1h-2zM426 212h4v1h-4zM433 212h2v1h-2zM436 212h3v1h-3zM440 212h1v1h-1zM380 213h2v1h-2zM383 213h2v1h-2zM386 213h2v1h-2zM389 213h2v1h-2zM393 213h1v1h-1zM396 213h1v1h-1zM399 213h8v1h-8zM408 213h1v1h-1zM411 213h1v1h-1zM414 213h1v1h-1zM417 213h1v1h-1zM419 213h5v1h-5zM425 213h3v1h-3zM429 213h9v1h-9zM440 213h1v1h-1zM381 214h1v1h-1zM384 214h1v1h-1zM386 214h2v1h-2zM390 214h1v1h-1zM393 214h1v1h-1zM396 214h1v1h-1zM399 214h1v1h-1zM405 214h1v1h-1zM408 214h1v1h-1zM414 214h1v1h-1zM416 214h3v1h-3zM420 214h2v1h-2zM423 214h2v1h-2zM426 214h1v1h-1zM429 214h1v1h-1zM432 214h1v1h-1zM434 214h4v1h-4zM439 214h1v1h-1zM382 215h1v1h-1zM384 215h2v1h-2zM387 215h14v1h-14zM402 215h1v1h-1zM408 215h2v1h-2zM411 215h3v1h-3zM416 215h1v1h-1zM419 215h1v1h-1zM421 215h2v1h-2zM424 215h5v1h-5zM430 215h3v1h-3zM434 215h1v1h-1zM436 215h1v1h-1zM438 215h1v1h-1zM383 216h1v1h-1zM385 216h1v1h-1zM387 216h1v1h-1zM389 216h1v1h-1zM392 216h1v1h-1zM396 216h1v1h-1zM398 216h2v1h-2zM402 216h3v1h-3zM407 216h2v1h-2zM410 216h1v1h-1zM413 216h1v1h-1zM416 216h1v1h-1zM418 216h2v1h-2zM421 216h2v1h-2zM424 216h6v1h-6zM431 216h2v1h-2zM435 216h1v1h-1zM437 216h2v1h-2zM383 217h2v1h-2zM386 217h1v1h-1zM389 217h4v1h-4zM395 217h1v1h-1zM398 217h1v1h-1zM401 217h2v1h-2zM404 217h1v1h-1zM407 217h1v1h-1zM409 217h2v1h-2zM413 217h1v1h-1zM416 217h1v1h-1zM419 217h4v1h-4zM426 217h1v1h-1zM428 217h1v1h-1zM430 217h3v1h-3zM434 217h1v1h-1zM437 217h1v1h-1zM384 218h2v1h-2zM387 218h1v1h-1zM389 218h3v1h-3zM393 218h2v1h-2zM397 218h1v1h-1zM399 218h4v1h-4zM406 218h2v1h-2zM409 218h1v1h-1zM413 218h2v1h-2zM416 218h6v1h-6zM424 218h8v1h-8zM433 218h1v1h-1zM436 218h1v1h-1zM385 219h2v1h-2zM388 219h3v1h-3zM393 219h1v1h-1zM395 219h2v1h-2zM399 219h7v1h-7zM408 219h1v1h-1zM411 219h1v1h-1zM413 219h2v1h-2zM417 219h1v1h-1zM420 219h2v1h-2zM423 219h1v1h-1zM426 219h4v1h-4zM432 219h1v1h-1zM435 219h1v1h-1zM386 220h2v1h-2zM389 220h5v1h-5zM396 220h1v1h-1zM398 220h1v1h-1zM400 220h3v1h-3zM405 220h2v1h-2zM408 220h1v1h-1zM410 220h2v1h-2zM414 220h1v1h-1zM417 220h1v1h-1zM420 220h1v1h-1zM423 220h2v1h-2zM426 220h1v1h-1zM429 220h3v1h-3zM434 220h1v1h-1zM387 221h2v1h-2zM390 221h2v1h-2zM393 221h3v1h-3zM397 221h2v1h-2zM400 221h1v1h-1zM404 221h3v1h-3zM414 221h1v1h-1zM416 221h1v1h-1zM418 221h1v1h-1zM421 221h1v1h-1zM423 221h5v1h-5zM429 221h2v1h-2zM432 221h2v1h-2zM388 222h2v1h-2zM392 222h2v1h-2zM396 222h1v1h-1zM398 222h1v1h-1zM403 222h5v1h-5zM410 222h1v1h-1zM413 222h1v1h-1zM416 222h1v1h-1zM418 222h2v1h-2zM422 222h1v1h-1zM425 222h4v1h-4zM431 222h2v1h-2zM390 223h2v1h-2zM393 223h3v1h-3zM398 223h1v1h-1zM401 223h5v1h-5zM407 223h1v1h-1zM410 223h1v1h-1zM413 223h1v1h-1zM416 223h1v1h-1zM419 223h1v1h-1zM421 223h1v1h-1zM426 223h2v1h-2zM430 223h1v1h-1zM391 224h2v1h-2zM395 224h3v1h-3zM399 224h1v1h-1zM403 224h9v1h-9zM413 224h3v1h-3zM417 224h5v1h-5zM424 224h2v1h-2zM428 224h2v1h-2zM393 225h2v1h-2zM397 225h3v1h-3zM404 225h2v1h-2zM407 225h6v1h-6zM414 225h1v1h-1zM417 225h1v1h-1zM421 225h3v1h-3zM426 225h2v1h-2zM395 226h2v1h-2zM400 226h4v1h-4zM405 226h1v1h-1zM407 226h2v1h-2zM410 226h2v1h-2zM413 226h2v1h-2zM417 226h4v1h-4zM424 226h2v1h-2zM397 227h3v1h-3zM404 227h13v1h-13zM421 227h3v1h-3zM400 228h4v1h-4zM418 228h3v1h-3zM404 229h14v1h-14z"/>
<text filter="url(#th)" transform="translate(491.30 277.50) rotate(-90)" font-size="10.6" text-anchor="start" fill="#fff" font-weight="bold" stroke="#000" stroke-width="0.85">EdgeAIPC</text>
<path fill="#000" d="M359 84h140v1h-140zM359 84h1v9h-1zM498 84h1v21h-1zM361 83h3v3h-3zM493 83h3v3h-3zM361 94h138v1h-138zM363 93h3v3h-3zM493 93h3v3h-3z"/>
<text filter="url(#th)" transform="translate(420.50 84.00) scale(0.85 1)" font-size="7" text-anchor="middle" fill="#000" font-weight="normal" stroke="#000" stroke-width="0.4">147</text>
<text filter="url(#th)" transform="translate(420.50 94.00) scale(0.85 1)" font-size="7" text-anchor="middle" fill="#000" font-weight="normal" stroke="#000" stroke-width="0.4">145</text>
<path fill="#000" d="M498 105h11v1h-11zM498 283h11v1h-11zM508 105h1v179h-1zM507 108h3v3h-3zM507 278h3v3h-3z"/>
<text filter="url(#th)" transform="translate(508.00 193.00) rotate(-90) scale(0.97 1)" font-size="7" text-anchor="middle" fill="#000" font-weight="normal" stroke="#000" stroke-width="0.4">155.4</text>
<path fill="#000" d="M549 92h36v1h-36zM549 93h1v1h-1zM548 94h1v1h-1zM548 95h1v1h-1zM547 96h1v1h-1zM546 98h1v1h-1zM546 99h1v1h-1zM545 100h1v1h-1zM545 101h1v1h-1zM544 103h1v1h-1zM543 104h1v1h-1zM543 105h1v1h-1zM542 106h1v1h-1zM585 93h1v1h-1zM586 94h1v1h-1zM586 95h1v1h-1zM587 96h1v1h-1zM588 98h1v1h-1zM588 99h1v1h-1zM589 100h1v1h-1zM589 101h1v1h-1zM590 103h1v1h-1zM591 104h1v1h-1zM591 105h1v1h-1zM592 106h1v1h-1zM542 107h1v177h-1zM592 106h1v178h-1zM542 284h1v1h-1zM543 285h1v1h-1zM543 286h1v1h-1zM544 287h1v1h-1zM545 289h1v1h-1zM546 290h1v1h-1zM547 291h1v1h-1zM547 292h1v1h-1zM549 294h1v1h-1zM549 295h1v1h-1zM550 296h1v1h-1zM592 284h1v1h-1zM591 285h1v1h-1zM591 286h1v1h-1zM590 287h1v1h-1zM589 289h1v1h-1zM588 290h1v1h-1zM588 291h1v1h-1zM587 292h1v1h-1zM586 294h1v1h-1zM586 295h1v1h-1zM585 296h1v1h-1zM557 296h24v1h-24zM552 291h1v6h-1zM555 291h1v6h-1zM553 290h2v1h-2zM553 289h1v1h-1zM579 291h1v6h-1zM582 291h1v6h-1zM580 290h2v1h-2zM580 289h1v1h-1z"/>
<path d="M553.50 95.50 L555.50 95.50 L555.50 101.00 L556.50 102.00 L556.50 103.50 L555.50 104.50 L552.50 104.50 L551.50 103.50 L551.50 102.00 L552.50 101.00 L552.50 96.50 L553.50 95.50" fill="none" stroke="#000" stroke-width="1"/>
<path d="M580.50 95.50 L582.50 95.50 L582.50 101.00 L583.50 102.00 L583.50 103.50 L582.50 104.50 L579.50 104.50 L578.50 103.50 L578.50 102.00 L579.50 101.00 L579.50 96.50 L580.50 95.50" fill="none" stroke="#000" stroke-width="1"/>
<path fill="#000" d="M555 111h4v1h-4zM554 112h6v1h-6zM554 113h6v1h-6zM554 114h2v1h-2zM557 114h1v1h-1zM559 114h1v1h-1zM554 115h6v1h-6zM555 116h4v1h-4zM581 111h4v1h-4zM580 112h6v1h-6zM580 113h6v1h-6zM580 114h2v1h-2zM583 114h1v1h-1zM585 114h1v1h-1zM580 115h6v1h-6zM581 116h4v1h-4zM555 272h4v1h-4zM554 273h6v1h-6zM554 274h6v1h-6zM554 275h2v1h-2zM557 275h1v1h-1zM559 275h1v1h-1zM554 276h6v1h-6zM555 277h4v1h-4zM581 272h4v1h-4zM580 273h6v1h-6zM580 274h6v1h-6zM580 275h2v1h-2zM583 275h1v1h-1zM585 275h1v1h-1zM580 276h6v1h-6zM581 277h4v1h-4zM628 105h140v2h-140zM628 282h140v2h-140zM628 105h1v179h-1zM633 105h3v179h-3zM758 105h2v179h-2zM765 92h1v205h-1zM767 92h1v205h-1zM765 92h3v2h-3zM765 295h3v2h-3zM626 111h1v8h-1zM626 111h3v1h-3zM626 118h3v1h-3zM651 104h7v1h-7z"/>
<path fill="#555" d="M629 103h7v1h-7z"/>
<path fill="#000" d="M629 103h1v2h-1zM635 103h1v2h-1z"/>
<path fill="#555" d="M759 103h6v1h-6z"/>
<path fill="#000" d="M759 103h1v2h-1zM764 103h1v2h-1z"/>
<path fill="#555" d="M629 285h6v1h-6z"/>
<path fill="#000" d="M629 284h1v2h-1zM634 284h1v2h-1z"/>
<path fill="#555" d="M652 285h7v1h-7z"/>
<path fill="#000" d="M652 284h1v2h-1zM658 284h1v2h-1z"/>
<path fill="#555" d="M759 285h6v1h-6z"/>
<path fill="#000" d="M759 284h1v2h-1zM764 284h1v2h-1zM359 331h1v52h-1zM359 331h140v1h-140zM498 331h1v51h-1zM361 331h1v52h-1zM360 338h1v2h-1zM360 362h1v2h-1zM360 375h1v2h-1zM359 364h100v19h-100z"/>
<path fill="#fff" d="M362 381h4v1h-4zM368 381h4v1h-4zM373 381h4v1h-4zM379 381h4v1h-4zM384 381h4v1h-4zM390 381h4v1h-4zM396 381h4v1h-4zM401 381h4v1h-4zM407 381h4v1h-4zM412 381h4v1h-4zM418 381h4v1h-4zM424 381h4v1h-4zM429 381h4v1h-4zM435 381h4v1h-4zM440 381h4v1h-4zM446 381h4v1h-4zM452 381h4v1h-4zM362 365h3v14h-3zM360 377h1v4h-1zM360 371h1v4h-1zM360 365h1v4h-1zM366 371h1v9h-1zM366 379h3v1h-3zM370 365h2v15h-2zM376 365h1v14h-1zM376 379h3v1h-3zM377 365h2v9h-2zM382 365h2v8h-2zM387 365h2v15h-2zM388 365h1v4h-1zM391 369h1v10h-1zM394 365h2v15h-2zM397 365h1v9h-1zM399 371h1v9h-1zM399 379h3v1h-3zM403 365h2v15h-2zM409 365h1v14h-1zM409 379h3v1h-3zM410 365h2v9h-2zM415 365h2v8h-2zM420 365h2v15h-2zM421 365h1v4h-1zM424 369h1v10h-1zM427 365h2v15h-2zM430 365h1v9h-1zM433 371h1v9h-1zM433 379h3v1h-3zM437 365h2v15h-2zM443 365h1v14h-1zM443 379h3v1h-3zM444 365h2v9h-2zM449 365h2v8h-2zM454 365h2v15h-2zM455 365h1v4h-1z"/>
<path fill="#aaa" d="M374 367h2v1h-2zM386 367h2v1h-2zM397 367h2v1h-2zM408 367h2v1h-2zM420 367h2v1h-2zM432 367h2v1h-2zM443 367h2v1h-2zM454 367h2v1h-2z"/>
<path fill="#000" d="M459 364h3v1h-3z"/>
<line x1="461.50" y1="364.50" x2="465.50" y2="381.50" stroke="#000" stroke-width="1"/>
<path fill="#000" d="M466 382h32v1h-32zM497 381h1v1h-1zM499 341h1v8h-1zM363 332h3v1h-3zM362 333h5v1h-5zM362 334h5v1h-5zM363 335h3v1h-3zM364 336h1v1h-1zM363 359h3v1h-3zM362 360h5v1h-5zM362 361h5v1h-5zM363 362h3v1h-3zM364 363h1v1h-1zM493 332h3v1h-3zM492 333h5v1h-5zM492 334h5v1h-5zM492 335h5v1h-5zM493 336h3v1h-3z"/>
<path fill="#fff" d="M494 334h1v1h-1z"/>
<path fill="#000" d="M493 375h3v1h-3zM492 376h5v1h-5zM492 377h5v1h-5zM492 378h5v1h-5zM493 379h3v1h-3z"/>
<path fill="#fff" d="M494 377h1v1h-1z"/>
<path fill="#000" d="M376 337h9v2h-9zM379 339h3v1h-3zM379 341h2v1h-2zM378 342h5v1h-5zM377 343h7v1h-7zM377 344h7v1h-7zM377 345h7v1h-7zM377 346h7v1h-7zM378 347h5v1h-5zM379 348h2v1h-2z"/>
<path fill="#fff" d="M379 344h2v2h-2z"/>
<path fill="#000" d="M388 340h33v12h-33zM399 337h10v3h-10z"/>
<path fill="#fff" d="M389 342h2v1h-2zM417 342h2v1h-2zM389 346h2v3h-2zM417 346h2v3h-2zM389 350h2v1h-2zM417 350h2v1h-2zM394 349h1v1h-1zM400 349h1v1h-1zM406 349h1v1h-1zM412 349h1v1h-1z"/>
<path fill="#000" d="M423 340h33v12h-33zM435 337h9v3h-9z"/>
<path fill="#fff" d="M424 342h2v1h-2zM452 342h2v1h-2zM424 346h2v3h-2zM452 346h2v3h-2zM424 350h2v1h-2zM452 350h2v1h-2zM429 349h1v1h-1zM435 349h1v1h-1zM441 349h1v1h-1zM447 349h1v1h-1z"/>
<path fill="#000" d="M468 337h8v13h-8z"/>
<path fill="#fff" d="M470 343h1v1h-1zM473 343h1v1h-1zM469 348h6v1h-6z"/>
<path fill="#000" d="M470 353h3v1h-3zM469 354h2v1h-2zM473 354h1v1h-1zM468 355h2v1h-2zM474 355h1v1h-1zM468 356h1v1h-1zM474 356h1v1h-1zM468 357h2v1h-2zM474 357h1v1h-1zM469 358h2v1h-2zM473 358h2v1h-2zM470 359h4v1h-4zM470 368h3v1h-3zM469 369h2v1h-2zM473 369h1v1h-1zM468 370h2v1h-2zM474 370h1v1h-1zM468 371h1v1h-1zM474 371h1v1h-1zM468 372h2v1h-2zM474 372h1v1h-1zM469 373h2v1h-2zM473 373h2v1h-2zM470 374h4v1h-4zM472 361h1v1h-1zM471 362h3v1h-3zM470 363h5v1h-5zM471 364h4v1h-4zM472 376h1v1h-1zM471 377h3v1h-3zM470 378h5v1h-5zM471 379h4v1h-4zM486 353h3v1h-3zM485 354h2v1h-2zM489 354h1v1h-1zM484 355h2v1h-2zM490 355h1v1h-1zM484 356h1v1h-1zM490 356h1v1h-1zM484 357h2v1h-2zM490 357h1v1h-1zM485 358h2v1h-2zM489 358h2v1h-2zM486 359h4v1h-4zM486 368h3v1h-3zM485 369h2v1h-2zM489 369h1v1h-1zM484 370h2v1h-2zM490 370h1v1h-1zM484 371h1v1h-1zM490 371h1v1h-1zM484 372h2v1h-2zM490 372h1v1h-1zM485 373h2v1h-2zM489 373h2v1h-2zM486 374h4v1h-4zM487 361h1v1h-1zM486 362h3v1h-3zM485 363h5v1h-5zM486 364h4v1h-4zM487 376h1v1h-1zM486 377h3v1h-3zM485 378h5v1h-5zM486 379h4v1h-4zM361 412h1v51h-1zM361 462h137v1h-137zM497 414h1v49h-1zM466 412h31v1h-31zM496 413h1v1h-1zM363 412h1v51h-1zM362 415h1v2h-1zM362 419h1v2h-1zM362 424h1v2h-1zM362 454h1v2h-1zM362 457h1v2h-1zM361 412h98v19h-98z"/>
<path fill="#fff" d="M364 413h4v1h-4zM369 413h4v1h-4zM375 413h4v1h-4zM380 413h4v1h-4zM386 413h4v1h-4zM391 413h4v1h-4zM397 413h4v1h-4zM402 413h4v1h-4zM408 413h4v1h-4zM413 413h4v1h-4zM419 413h4v1h-4zM424 413h4v1h-4zM430 413h4v1h-4zM435 413h4v1h-4zM441 413h4v1h-4zM446 413h4v1h-4zM452 413h3v1h-3zM364 416h3v14h-3zM362 414h1v4h-1zM362 420h1v4h-1zM362 426h1v4h-1zM368 415h1v9h-1zM368 415h3v1h-3zM372 415h2v15h-2zM378 416h1v14h-1zM378 415h3v1h-3zM378 421h2v9h-2zM383 422h2v8h-2zM388 415h2v15h-2zM389 426h1v4h-1zM392 416h1v10h-1zM395 415h2v15h-2zM398 421h1v9h-1zM401 415h1v9h-1zM401 415h2v1h-2zM404 415h2v15h-2zM410 416h1v14h-1zM410 415h3v1h-3zM411 421h2v9h-2zM416 422h2v8h-2zM421 415h2v15h-2zM422 426h1v4h-1zM425 416h1v10h-1zM428 415h1v15h-1zM431 421h1v9h-1zM433 415h1v9h-1zM433 415h3v1h-3zM437 415h2v15h-2zM443 416h1v14h-1zM443 415h3v1h-3zM444 421h2v9h-2zM449 422h2v8h-2zM454 415h2v15h-2zM454 426h1v4h-1z"/>
<path fill="#aaa" d="M376 427h2v1h-2zM387 427h2v1h-2zM398 427h2v1h-2zM409 427h2v1h-2zM421 427h2v1h-2zM432 427h2v1h-2zM443 427h2v1h-2zM454 427h2v1h-2z"/>
<path fill="#000" d="M459 430h3v1h-3z"/>
<line x1="461.25" y1="430.09" x2="465.16" y2="413.47" stroke="#000" stroke-width="1"/>
<path fill="#000" d="M465 412h2v1h-2zM498 445h1v7h-1zM365 431h2v1h-2zM364 432h4v1h-4zM364 433h5v1h-5zM364 434h4v1h-4zM365 435h2v1h-2zM366 457h1v1h-1zM364 458h4v1h-4zM364 459h5v1h-5zM364 460h4v1h-4zM365 461h3v1h-3zM492 415h3v1h-3zM491 416h5v1h-5zM491 417h5v1h-5zM491 418h5v1h-5zM492 419h3v1h-3z"/>
<path fill="#fff" d="M493 417h1v1h-1z"/>
<path fill="#000" d="M492 457h3v1h-3zM491 458h5v1h-5zM491 459h5v1h-5zM491 460h5v1h-5zM492 461h3v1h-3z"/>
<path fill="#fff" d="M493 459h1v1h-1z"/>
<path fill="#000" d="M376 450h12v3h-12zM381 453h3v4h-3z"/>
<path fill="#888" d="M383 450h3v1h-3z"/>
<path fill="#000" d="M393 451h10v6h-10z"/>
<path fill="#fff" d="M394 453h1v2h-1z"/>
<path fill="#000" d="M407 451h11v6h-11z"/>
<path fill="#fff" d="M408 454h1v1h-1zM417 451h1v1h-1z"/>
<path fill="#999" d="M416 451h1v1h-1z"/>
<path fill="#000" d="M431 449h9v3h-9zM432 452h7v2h-7zM432 454h6v3h-6z"/>
<path fill="#fff" d="M432 450h1v1h-1zM437 450h1v1h-1z"/>
<path fill="#000" d="M442 449h10v8h-10z"/>
<path fill="#fff" d="M443 450h1v1h-1zM447 450h2v1h-2zM444 453h3v1h-3zM448 453h4v1h-4zM451 452h1v1h-1z"/>
<path fill="#000" d="M470 419h4v1h-4zM470 420h4v1h-4zM471 421h2v1h-2zM472 422h1v1h-1zM470 427h2v1h-2zM469 428h2v1h-2zM472 428h1v1h-1zM468 429h2v1h-2zM473 429h1v1h-1zM468 430h1v1h-1zM473 430h1v1h-1zM468 431h2v1h-2zM473 431h1v1h-1zM469 432h2v1h-2zM472 432h2v1h-2zM470 433h3v1h-3zM484 419h5v1h-5zM484 420h5v1h-5zM485 421h3v1h-3zM486 422h1v1h-1zM485 427h3v1h-3zM484 428h2v1h-2zM488 428h1v1h-1zM483 429h2v1h-2zM489 429h1v1h-1zM483 430h1v1h-1zM489 430h1v1h-1zM483 431h2v1h-2zM489 431h1v1h-1zM484 432h2v1h-2zM488 432h2v1h-2zM485 433h4v1h-4zM471 443h2v1h-2zM470 444h4v1h-4zM469 445h6v1h-6zM469 446h6v1h-6zM470 447h4v1h-4z"/>
<path fill="#fff" d="M471 444h1v2h-1z"/>
<path fill="#000" d="M472 445h1v1h-1zM485 443h3v1h-3zM484 444h5v1h-5zM484 445h5v1h-5zM484 446h5v1h-5zM485 447h4v1h-4zM269 489h36v1h-36zM268 491h1v1h-1zM267 492h1v1h-1zM267 493h1v1h-1zM266 494h1v1h-1zM265 496h1v1h-1zM265 498h1v1h-1zM264 499h1v1h-1zM264 500h1v1h-1zM304 490h1v1h-1zM305 491h1v1h-1zM305 492h1v1h-1zM306 493h1v1h-1zM307 495h1v1h-1zM307 496h1v1h-1zM308 498h1v1h-1zM308 499h1v1h-1zM273 492h2v1h-2zM272 493h1v1h-1zM275 493h1v1h-1zM272 494h1v1h-1zM275 494h1v1h-1zM272 495h1v1h-1zM275 495h1v1h-1zM272 496h1v1h-1zM275 496h1v1h-1zM271 497h1v1h-1zM276 497h1v1h-1zM271 498h1v1h-1zM276 498h1v1h-1zM271 499h1v1h-1zM276 499h1v1h-1zM272 500h1v1h-1zM275 500h1v1h-1zM273 501h2v1h-2zM300 492h2v1h-2zM299 493h1v1h-1zM301 493h1v1h-1zM299 494h1v1h-1zM301 494h1v1h-1zM299 495h1v1h-1zM301 495h1v1h-1zM298 496h1v1h-1zM301 496h1v1h-1zM297 497h1v1h-1zM301 497h1v1h-1zM297 498h1v1h-1zM301 498h2v1h-2zM297 499h1v1h-1zM302 499h1v1h-1zM298 500h1v1h-1zM301 500h1v1h-1zM299 501h2v1h-2z"/>
<path fill="#444" d="M265 500h6v1h-6z"/>
<path fill="#000" d="M265 500h1v2h-1zM270 500h1v2h-1z"/>
<path fill="#444" d="M282 500h4v1h-4z"/>
<path fill="#000" d="M282 500h1v2h-1zM286 500h1v2h-1z"/>
<path fill="#444" d="M307 500h5v1h-5z"/>
<path fill="#000" d="M307 500h1v2h-1zM311 500h1v2h-1zM262 502h3v174h-3zM262 502h50v2h-50zM306 502h2v174h-2zM310 502h2v174h-2zM262 673h50v3h-50zM280 506h1v1h-1zM274 507h8v1h-8zM273 508h2v1h-2zM279 508h1v1h-1zM281 508h1v1h-1zM273 508h9v1h-9zM273 509h2v1h-2zM278 509h3v1h-3zM273 510h8v1h-8zM273 511h1v1h-1zM279 511h2v1h-2zM274 512h2v1h-2zM278 512h2v1h-2zM275 513h4v1h-4zM273 514h7v1h-7zM273 515h1v1h-1zM279 515h1v1h-1zM273 516h8v1h-8zM273 517h2v1h-2zM278 517h4v1h-4zM273 518h9v1h-9zM273 519h1v1h-1zM276 519h2v1h-2zM279 519h1v1h-1zM281 519h1v1h-1zM273 520h7v1h-7zM281 520h1v1h-1zM276 521h6v1h-6zM276 522h2v1h-2zM279 522h2v1h-2zM274 523h4v1h-4zM279 523h2v1h-2zM273 524h2v1h-2zM279 524h1v1h-1zM273 525h7v1h-7zM273 526h2v1h-2zM279 526h3v1h-3zM273 527h3v1h-3zM277 527h4v1h-4zM273 528h1v1h-1zM275 528h3v1h-3zM279 528h1v1h-1zM274 529h2v1h-2zM277 529h3v1h-3zM275 530h3v1h-3zM297 507h3v1h-3zM295 508h7v1h-7zM295 508h1v1h-1zM297 508h3v1h-3zM301 508h1v1h-1zM294 509h2v1h-2zM298 509h5v1h-5zM294 510h7v1h-7zM302 510h1v1h-1zM294 511h2v1h-2zM297 511h6v1h-6zM294 512h2v1h-2zM297 512h3v1h-3zM301 512h2v1h-2zM295 513h3v1h-3zM299 513h3v1h-3zM296 514h5v1h-5zM304 507h2v8h-2zM303 513h3v2h-3zM303 519h3v7h-3zM303 527h3v3h-3zM286 520h15v1h-15zM286 521h16v1h-16zM286 522h2v1h-2zM289 522h10v1h-10zM300 522h2v1h-2zM286 523h13v1h-13zM300 523h2v1h-2zM286 524h3v1h-3zM299 524h3v1h-3zM287 525h12v1h-12zM288 526h11v1h-11zM300 530h3v1h-3zM301 531h2v1h-2zM301 532h1v1h-1zM303 530h3v4h-3z"/>
<path fill="#fff" d="M303 530h1v1h-1zM305 530h1v1h-1zM304 531h1v1h-1zM303 532h1v1h-1zM305 532h1v1h-1z"/>
<path fill="#000" d="M272 535h33v1h-33zM270 537h1v3h-1zM270 546h1v12h-1zM270 565h1v3h-1zM272 569h33v1h-33zM271 536h1v1h-1zM271 568h1v1h-1zM304 534h1v36h-1zM295 533h2v2h-2zM269 540h3v5h-3zM269 558h3v6h-3zM280 537h9v12h-9z"/>
<path fill="#fff" d="M281 541h3v4h-3zM283 538h1v2h-1zM285 538h1v1h-1zM286 538h1v1h-1zM283 546h1v2h-1zM285 547h1v1h-1zM286 547h1v1h-1zM284 545h1v1h-1z"/>
<path fill="#000" d="M292 537h10v12h-10z"/>
<path fill="#fff" d="M297 541h3v4h-3zM297 538h1v2h-1zM295 538h1v1h-1zM293 538h1v1h-1zM297 546h1v2h-1zM295 547h1v1h-1zM293 547h1v1h-1zM296 545h1v1h-1z"/>
<path fill="#000" d="M280 555h9v13h-9z"/>
<path fill="#fff" d="M281 559h3v5h-3zM283 556h1v2h-1zM285 556h1v1h-1zM286 556h1v1h-1zM283 565h1v2h-1zM285 566h1v1h-1zM286 566h1v1h-1zM284 564h1v1h-1z"/>
<path fill="#000" d="M292 555h10v13h-10z"/>
<path fill="#fff" d="M297 559h3v5h-3zM297 556h1v2h-1zM295 556h1v1h-1zM293 556h1v1h-1zM297 565h1v2h-1zM295 566h1v1h-1zM293 566h1v1h-1zM296 564h1v1h-1z"/>
<path fill="#000" d="M284 570h2v2h-2zM284 572h1v1h-1zM286 571h1v1h-1zM279 573h2v3h-2zM289 573h2v3h-2zM297 573h2v3h-2zM272 576h31v1h-31zM271 577h1v1h-1zM270 578h1v4h-1zM270 589h1v18h-1zM270 617h1v2h-1zM271 619h1v1h-1zM272 619h32v1h-32zM303 577h1v1h-1zM304 578h1v4h-1zM304 589h1v6h-1zM304 602h1v7h-1zM304 616h1v3h-1zM269 582h3v5h-3zM269 607h3v10h-3zM303 582h3v5h-3zM303 597h3v4h-3zM303 609h3v7h-3zM301 597h2v1h-2zM301 598h2v1h-2zM302 599h1v1h-1zM275 578h10v13h-10z"/>
<path fill="#fff" d="M276 579h1v2h-1zM283 580h1v1h-1z"/>
<path fill="#999" d="M276 582h1v5h-1z"/>
<path fill="#fff" d="M277 582h2v5h-2z"/>
<path fill="#bbb" d="M277 582h1v1h-1z"/>
<path fill="#fff" d="M280 580h2v1h-2zM281 581h1v7h-1zM280 588h4v1h-4zM276 589h1v1h-1z"/>
<path fill="#000" d="M275 605h10v14h-10z"/>
<path fill="#fff" d="M276 606h1v2h-1zM283 607h1v1h-1z"/>
<path fill="#999" d="M276 610h1v5h-1z"/>
<path fill="#fff" d="M277 610h2v5h-2z"/>
<path fill="#bbb" d="M277 609h1v1h-1z"/>
<path fill="#fff" d="M280 607h2v1h-2zM281 608h1v8h-1zM280 616h4v1h-4zM276 617h1v1h-1z"/>
<path fill="#000" d="M287 578h7v13h-7z"/>
<path fill="#fff" d="M288 582h1v1h-1zM291 586h1v1h-1z"/>
<path fill="#000" d="M295 578h7v13h-7z"/>
<path fill="#fff" d="M297 579h1v1h-1zM296 582h1v1h-1zM296 586h1v1h-1zM299 586h1v1h-1z"/>
<path fill="#000" d="M287 605h7v14h-7z"/>
<path fill="#fff" d="M288 608h1v1h-1z"/>
<path fill="#000" d="M295 605h7v14h-7z"/>
<path fill="#fff" d="M299 607h1v1h-1zM296 608h1v1h-1zM296 614h1v1h-1zM299 616h1v1h-1z"/>
<path fill="#000" d="M279 594h2v2h-2zM289 594h2v2h-2zM297 594h2v2h-2zM279 600h2v2h-2zM289 600h2v2h-2zM297 600h2v2h-2zM279 621h2v2h-2zM289 621h2v2h-2zM297 621h2v2h-2zM303 623h3v5h-3zM300 624h1v3h-1zM301 625h1v1h-1zM302 626h1v1h-1zM274 626h2v3h-2zM282 626h2v3h-2zM289 626h2v3h-2zM297 626h2v3h-2zM270 629h35v2h-35zM304 631h1v15h-1zM274 646h31v1h-31zM269 635h4v6h-4zM270 632h1v3h-1zM270 643h1v3h-1zM271 645h1v1h-1zM272 632h7v13h-7zM280 632h6v13h-6zM287 632h7v13h-7zM295 632h7v13h-7z"/>
<path fill="#fff" d="M276 633h2v11h-2z"/>
<path fill="#ddd" d="M276 633h1v11h-1z"/>
<path fill="#777" d="M280 633h1v11h-1z"/>
<path fill="#fff" d="M284 633h1v11h-1z"/>
<path fill="#bbb" d="M283 633h1v11h-1z"/>
<path fill="#000" d="M283 638h1v1h-1z"/>
<path fill="#777" d="M287 633h1v11h-1z"/>
<path fill="#fff" d="M291 633h1v11h-1z"/>
<path fill="#bbb" d="M290 633h1v11h-1z"/>
<path fill="#777" d="M295 633h1v11h-1z"/>
<path fill="#fff" d="M299 633h1v11h-1z"/>
<path fill="#ccc" d="M300 633h1v11h-1z"/>
<path fill="#000" d="M300 639h1v1h-1zM302 632h1v13h-1zM274 648h2v3h-2zM282 648h2v3h-2zM289 648h2v3h-2zM297 648h2v3h-2zM299 649h1v1h-1zM270 652h33v1h-33zM269 654h3v6h-3zM269 661h3v4h-3zM269 666h3v5h-3zM270 671h2v2h-2zM283 653h1v21h-1zM272 673h12v1h-12zM280 656h1v3h-1zM279 657h3v1h-3zM280 666h1v2h-1zM284 653h19v18h-19z"/>
<path fill="#fff" d="M285 654h2v2h-2zM288 654h2v2h-2z"/>
<path fill="#000" d="M286 656h1v1h-1z"/>
<path fill="#fff" d="M286 658h1v2h-1zM288 659h1v2h-1zM286 662h2v1h-2zM286 663h1v3h-1zM288 663h1v2h-1zM286 666h3v1h-3zM286 668h2v1h-2zM285 667h1v3h-1zM289 667h1v3h-1zM295 654h3v2h-3zM299 654h2v2h-2z"/>
<path fill="#000" d="M297 656h1v1h-1z"/>
<path fill="#fff" d="M296 658h1v2h-1zM299 659h1v2h-1zM296 662h3v1h-3zM296 663h1v3h-1zM299 663h1v2h-1zM296 666h4v1h-4zM297 668h2v1h-2zM295 667h1v3h-1zM300 667h1v3h-1zM292 655h2v14h-2z"/>
<path fill="#000" d="M304 653h1v4h-1zM304 659h1v13h-1z"/>
<path fill="#444" d="M266 677h4v1h-4z"/>
<path fill="#000" d="M266 676h1v2h-1zM269 676h1v2h-1z"/>
<path fill="#444" d="M282 677h4v1h-4z"/>
<path fill="#000" d="M282 676h1v2h-1zM285 676h1v2h-1z"/>
<path fill="#444" d="M293 677h5v1h-5z"/>
<path fill="#000" d="M293 676h1v2h-1zM297 676h1v2h-1z"/>
<path fill="#444" d="M307 677h5v1h-5z"/>
<path fill="#000" d="M307 676h1v2h-1zM311 676h1v2h-1zM263 676h1v1h-1zM264 677h1v1h-1zM264 678h1v1h-1zM265 679h1v1h-1zM266 681h1v1h-1zM267 682h1v1h-1zM267 683h1v1h-1zM268 685h1v1h-1zM269 687h1v1h-1zM310 676h1v1h-1zM309 677h1v1h-1zM309 678h1v1h-1zM308 679h1v1h-1zM307 681h1v1h-1zM306 682h1v1h-1zM306 683h1v1h-1zM305 685h1v1h-1zM304 687h1v1h-1zM276 688h22v1h-22zM302 688h2v1h-2zM272 683h1v5h-1zM275 683h1v6h-1zM273 682h2v1h-2zM273 681h1v1h-1zM298 683h1v6h-1zM301 683h1v6h-1zM299 682h2v1h-2zM299 681h1v1h-1zM361 489h1v200h-1zM363 489h1v200h-1zM361 489h3v1h-3zM361 688h3v1h-3zM366 502h1v174h-1zM364 502h1v174h-1zM364 502h134v2h-134zM361 674h137v2h-137z"/>
<path fill="#555" d="M364 500h6v1h-6z"/>
<path fill="#000" d="M364 500h1v2h-1zM369 500h1v2h-1z"/>
<path fill="#555" d="M364 677h6v1h-6z"/>
<path fill="#000" d="M364 676h1v2h-1zM369 676h1v2h-1zM363 504h3v1h-3zM363 672h3v1h-3zM367 502h89v9h-89z"/>
<path fill="#808080" d="M368 503h3v7h-3z"/>
<path fill="#fff" d="M374 503h2v7h-2z"/>
<path fill="#808080" d="M380 503h2v7h-2z"/>
<path fill="#fff" d="M385 503h1v7h-1z"/>
<path fill="#888" d="M386 503h1v7h-1z"/>
<path fill="#fff" d="M388 503h1v7h-1z"/>
<path fill="#808080" d="M391 503h3v7h-3z"/>
<path fill="#fff" d="M397 503h2v7h-2z"/>
<path fill="#808080" d="M402 503h3v7h-3z"/>
<path fill="#fff" d="M407 503h2v7h-2z"/>
<path fill="#888" d="M409 503h1v7h-1z"/>
<path fill="#fff" d="M410 503h1v7h-1z"/>
<path fill="#808080" d="M413 503h3v7h-3z"/>
<path fill="#fff" d="M419 503h2v7h-2z"/>
<path fill="#808080" d="M424 503h3v7h-3z"/>
<path fill="#fff" d="M430 503h1v7h-1z"/>
<path fill="#888" d="M431 503h1v7h-1z"/>
<path fill="#fff" d="M432 503h2v7h-2z"/>
<path fill="#808080" d="M435 503h3v7h-3z"/>
<path fill="#fff" d="M441 503h2v7h-2z"/>
<path fill="#808080" d="M447 503h3v7h-3z"/>
<path fill="#fff" d="M452 503h2v7h-2z"/>
<path fill="#888" d="M454 503h1v7h-1z"/>
<path fill="#fff" d="M455 503h1v7h-1z"/>
<path fill="#000" d="M367 666h89v10h-89z"/>
<path fill="#808080" d="M368 667h3v7h-3z"/>
<path fill="#fff" d="M374 667h2v7h-2z"/>
<path fill="#808080" d="M380 667h2v7h-2z"/>
<path fill="#fff" d="M385 667h1v7h-1z"/>
<path fill="#888" d="M386 667h1v7h-1z"/>
<path fill="#fff" d="M388 667h1v7h-1z"/>
<path fill="#808080" d="M391 667h3v7h-3z"/>
<path fill="#fff" d="M397 667h2v7h-2z"/>
<path fill="#808080" d="M402 667h3v7h-3z"/>
<path fill="#fff" d="M407 667h2v7h-2z"/>
<path fill="#888" d="M409 667h1v7h-1z"/>
<path fill="#fff" d="M410 667h1v7h-1z"/>
<path fill="#808080" d="M413 667h3v7h-3z"/>
<path fill="#fff" d="M419 667h2v7h-2z"/>
<path fill="#808080" d="M424 667h3v7h-3z"/>
<path fill="#fff" d="M430 667h1v7h-1z"/>
<path fill="#888" d="M431 667h1v7h-1z"/>
<path fill="#fff" d="M432 667h2v7h-2z"/>
<path fill="#808080" d="M435 667h3v7h-3z"/>
<path fill="#fff" d="M441 667h2v7h-2z"/>
<path fill="#808080" d="M447 667h3v7h-3z"/>
<path fill="#fff" d="M452 667h2v7h-2z"/>
<path fill="#888" d="M454 667h1v7h-1z"/>
<path fill="#fff" d="M455 667h1v7h-1z"/>
<path fill="#000" d="M456 502h6v174h-6zM464 502h1v174h-1zM466 502h8v174h-8zM469 501h2v1h-2zM472 501h2v1h-2zM493 502h2v174h-2zM496 502h2v174h-2zM498 508h1v6h-1z"/>
<path fill="#555" d="M491 500h5v1h-5z"/>
<path fill="#000" d="M491 500h1v2h-1zM495 500h1v2h-1z"/>
<path fill="#555" d="M470 677h4v1h-4z"/>
<path fill="#000" d="M470 676h1v2h-1zM473 676h1v2h-1z"/>
<path fill="#555" d="M491 677h5v1h-5z"/>
<path fill="#000" d="M491 676h1v2h-1zM495 676h1v2h-1zM383 550h3v1h-3zM382 551h5v1h-5zM382 552h5v1h-5zM382 553h1v1h-1zM384 553h1v1h-1zM386 553h1v1h-1zM382 554h5v1h-5zM383 555h3v1h-3zM436 550h4v1h-4zM435 551h6v1h-6zM435 552h6v1h-6zM435 553h2v1h-2zM438 553h1v1h-1zM440 553h1v1h-1zM435 554h6v1h-6zM436 555h4v1h-4zM383 621h3v1h-3zM382 622h5v1h-5zM382 623h5v1h-5zM382 624h1v1h-1zM384 624h1v1h-1zM386 624h1v1h-1zM382 625h5v1h-5zM383 626h3v1h-3zM436 621h4v1h-4zM435 622h6v1h-6zM435 623h6v1h-6zM435 624h2v1h-2zM438 624h1v1h-1zM440 624h1v1h-1zM435 625h6v1h-6zM436 626h4v1h-4zM407 554h9v1h-9zM402 555h5v1h-5zM416 555h5v1h-5zM399 556h3v1h-3zM407 556h9v1h-9zM421 556h3v1h-3zM397 557h2v1h-2zM402 557h5v1h-5zM409 557h2v1h-2zM413 557h1v1h-1zM416 557h5v1h-5zM424 557h2v1h-2zM395 558h2v1h-2zM399 558h3v1h-3zM404 558h2v1h-2zM407 558h1v1h-1zM409 558h2v1h-2zM413 558h1v1h-1zM416 558h1v1h-1zM418 558h1v1h-1zM421 558h3v1h-3zM426 558h2v1h-2zM393 559h2v1h-2zM397 559h6v1h-6zM404 559h1v1h-1zM406 559h1v1h-1zM409 559h2v1h-2zM413 559h1v1h-1zM416 559h1v1h-1zM419 559h1v1h-1zM422 559h4v1h-4zM428 559h2v1h-2zM391 560h2v1h-2zM395 560h2v1h-2zM399 560h8v1h-8zM408 560h7v1h-7zM417 560h1v1h-1zM419 560h1v1h-1zM421 560h1v1h-1zM423 560h2v1h-2zM426 560h2v1h-2zM430 560h1v1h-1zM390 561h2v1h-2zM394 561h1v1h-1zM396 561h2v1h-2zM399 561h4v1h-4zM408 561h2v1h-2zM414 561h1v1h-1zM416 561h2v1h-2zM420 561h1v1h-1zM423 561h6v1h-6zM431 561h2v1h-2zM389 562h1v1h-1zM392 562h2v1h-2zM395 562h3v1h-3zM400 562h1v1h-1zM402 562h2v1h-2zM405 562h2v1h-2zM408 562h4v1h-4zM413 562h3v1h-3zM417 562h1v1h-1zM420 562h1v1h-1zM423 562h2v1h-2zM426 562h5v1h-5zM432 562h2v1h-2zM388 563h1v1h-1zM391 563h1v1h-1zM393 563h1v1h-1zM395 563h3v1h-3zM399 563h1v1h-1zM401 563h2v1h-2zM404 563h1v1h-1zM410 563h5v1h-5zM416 563h1v1h-1zM418 563h4v1h-4zM423 563h2v1h-2zM427 563h1v1h-1zM429 563h3v1h-3zM434 563h1v1h-1zM387 564h1v1h-1zM390 564h1v1h-1zM392 564h1v1h-1zM395 564h1v1h-1zM398 564h1v1h-1zM401 564h1v1h-1zM404 564h2v1h-2zM408 564h1v1h-1zM410 564h2v1h-2zM413 564h1v1h-1zM416 564h1v1h-1zM419 564h2v1h-2zM422 564h1v1h-1zM425 564h6v1h-6zM432 564h1v1h-1zM435 564h1v1h-1zM386 565h1v1h-1zM389 565h1v1h-1zM391 565h2v1h-2zM398 565h1v1h-1zM401 565h1v1h-1zM403 565h3v1h-3zM407 565h1v1h-1zM413 565h1v1h-1zM416 565h1v1h-1zM419 565h1v1h-1zM422 565h1v1h-1zM425 565h5v1h-5zM431 565h1v1h-1zM433 565h1v1h-1zM436 565h1v1h-1zM385 566h1v1h-1zM388 566h2v1h-2zM392 566h1v1h-1zM394 566h1v1h-1zM397 566h3v1h-3zM403 566h4v1h-4zM408 566h3v1h-3zM412 566h2v1h-2zM415 566h7v1h-7zM423 566h1v1h-1zM425 566h2v1h-2zM428 566h7v1h-7zM437 566h1v1h-1zM384 567h1v1h-1zM387 567h1v1h-1zM390 567h1v1h-1zM393 567h1v1h-1zM396 567h1v1h-1zM399 567h1v1h-1zM401 567h2v1h-2zM405 567h1v1h-1zM407 567h2v1h-2zM411 567h1v1h-1zM413 567h2v1h-2zM417 567h1v1h-1zM420 567h2v1h-2zM423 567h1v1h-1zM426 567h2v1h-2zM430 567h3v1h-3zM435 567h1v1h-1zM438 567h1v1h-1zM383 568h2v1h-2zM386 568h2v1h-2zM390 568h1v1h-1zM392 568h1v1h-1zM396 568h1v1h-1zM399 568h1v1h-1zM402 568h1v1h-1zM405 568h1v1h-1zM407 568h2v1h-2zM410 568h6v1h-6zM417 568h1v1h-1zM423 568h1v1h-1zM426 568h1v1h-1zM428 568h3v1h-3zM432 568h1v1h-1zM435 568h2v1h-2zM438 568h2v1h-2zM383 569h1v1h-1zM385 569h1v1h-1zM388 569h1v1h-1zM391 569h1v1h-1zM393 569h3v1h-3zM398 569h1v1h-1zM400 569h1v1h-1zM402 569h5v1h-5zM411 569h2v1h-2zM414 569h1v1h-1zM416 569h4v1h-4zM421 569h11v1h-11zM433 569h3v1h-3zM437 569h1v1h-1zM439 569h1v1h-1zM382 570h1v1h-1zM384 570h3v1h-3zM389 570h1v1h-1zM392 570h1v1h-1zM394 570h1v1h-1zM398 570h1v1h-1zM401 570h1v1h-1zM404 570h1v1h-1zM407 570h2v1h-2zM410 570h7v1h-7zM419 570h1v1h-1zM422 570h1v1h-1zM424 570h2v1h-2zM427 570h3v1h-3zM431 570h1v1h-1zM434 570h1v1h-1zM437 570h2v1h-2zM440 570h1v1h-1zM381 571h2v1h-2zM384 571h1v1h-1zM386 571h1v1h-1zM389 571h1v1h-1zM392 571h1v1h-1zM395 571h1v1h-1zM398 571h5v1h-5zM404 571h1v1h-1zM406 571h2v1h-2zM409 571h2v1h-2zM412 571h2v1h-2zM415 571h2v1h-2zM418 571h2v1h-2zM422 571h2v1h-2zM426 571h1v1h-1zM428 571h1v1h-1zM431 571h2v1h-2zM434 571h5v1h-5zM440 571h2v1h-2zM381 572h1v1h-1zM383 572h1v1h-1zM387 572h7v1h-7zM396 572h2v1h-2zM399 572h1v1h-1zM401 572h7v1h-7zM409 572h2v1h-2zM412 572h3v1h-3zM416 572h1v1h-1zM419 572h6v1h-6zM426 572h4v1h-4zM433 572h2v1h-2zM436 572h2v1h-2zM439 572h1v1h-1zM441 572h1v1h-1zM380 573h1v1h-1zM383 573h5v1h-5zM390 573h1v1h-1zM393 573h2v1h-2zM396 573h1v1h-1zM398 573h3v1h-3zM402 573h1v1h-1zM405 573h1v1h-1zM408 573h1v1h-1zM411 573h1v1h-1zM413 573h5v1h-5zM420 573h1v1h-1zM423 573h1v1h-1zM426 573h1v1h-1zM429 573h1v1h-1zM431 573h2v1h-2zM438 573h2v1h-2zM441 573h2v1h-2zM380 574h1v1h-1zM382 574h3v1h-3zM386 574h3v1h-3zM392 574h2v1h-2zM395 574h1v1h-1zM399 574h2v1h-2zM402 574h2v1h-2zM405 574h1v1h-1zM408 574h1v1h-1zM411 574h1v1h-1zM414 574h2v1h-2zM417 574h1v1h-1zM420 574h1v1h-1zM423 574h1v1h-1zM426 574h1v1h-1zM429 574h1v1h-1zM435 574h2v1h-2zM438 574h1v1h-1zM440 574h1v1h-1zM442 574h1v1h-1zM379 575h2v1h-2zM382 575h4v1h-4zM388 575h1v1h-1zM392 575h4v1h-4zM397 575h1v1h-1zM399 575h2v1h-2zM403 575h3v1h-3zM408 575h2v1h-2zM411 575h8v1h-8zM421 575h1v1h-1zM423 575h4v1h-4zM428 575h5v1h-5zM435 575h4v1h-4zM440 575h1v1h-1zM442 575h2v1h-2zM379 576h1v1h-1zM381 576h1v1h-1zM384 576h1v1h-1zM386 576h2v1h-2zM389 576h1v1h-1zM391 576h12v1h-12zM404 576h4v1h-4zM410 576h1v1h-1zM413 576h1v1h-1zM416 576h1v1h-1zM418 576h3v1h-3zM422 576h1v1h-1zM425 576h7v1h-7zM434 576h2v1h-2zM437 576h1v1h-1zM441 576h1v1h-1zM443 576h1v1h-1zM379 577h1v1h-1zM381 577h1v1h-1zM383 577h2v1h-2zM386 577h1v1h-1zM388 577h2v1h-2zM392 577h1v1h-1zM395 577h2v1h-2zM398 577h1v1h-1zM401 577h1v1h-1zM404 577h1v1h-1zM407 577h1v1h-1zM410 577h1v1h-1zM413 577h2v1h-2zM416 577h2v1h-2zM419 577h1v1h-1zM422 577h1v1h-1zM425 577h1v1h-1zM428 577h1v1h-1zM430 577h1v1h-1zM433 577h2v1h-2zM437 577h1v1h-1zM440 577h2v1h-2zM443 577h1v1h-1zM378 578h1v1h-1zM380 578h1v1h-1zM383 578h4v1h-4zM390 578h2v1h-2zM394 578h6v1h-6zM401 578h1v1h-1zM404 578h4v1h-4zM409 578h2v1h-2zM412 578h2v1h-2zM416 578h2v1h-2zM419 578h1v1h-1zM421 578h3v1h-3zM425 578h3v1h-3zM430 578h5v1h-5zM437 578h1v1h-1zM440 578h3v1h-3zM444 578h1v1h-1zM378 579h1v1h-1zM380 579h6v1h-6zM387 579h1v1h-1zM390 579h1v1h-1zM393 579h1v1h-1zM396 579h5v1h-5zM402 579h1v1h-1zM404 579h1v1h-1zM407 579h3v1h-3zM411 579h1v1h-1zM413 579h2v1h-2zM416 579h2v1h-2zM420 579h1v1h-1zM423 579h1v1h-1zM425 579h3v1h-3zM429 579h1v1h-1zM432 579h1v1h-1zM435 579h1v1h-1zM438 579h5v1h-5zM444 579h1v1h-1zM378 580h1v1h-1zM380 580h2v1h-2zM384 580h1v1h-1zM387 580h1v1h-1zM393 580h1v1h-1zM396 580h1v1h-1zM398 580h2v1h-2zM402 580h2v1h-2zM405 580h1v1h-1zM408 580h2v1h-2zM411 580h1v1h-1zM414 580h1v1h-1zM417 580h1v1h-1zM420 580h1v1h-1zM422 580h2v1h-2zM425 580h5v1h-5zM431 580h2v1h-2zM435 580h1v1h-1zM438 580h1v1h-1zM441 580h2v1h-2zM444 580h1v1h-1zM378 581h1v1h-1zM380 581h3v1h-3zM386 581h3v1h-3zM390 581h1v1h-1zM394 581h3v1h-3zM401 581h1v1h-1zM403 581h3v1h-3zM408 581h2v1h-2zM416 581h2v1h-2zM419 581h5v1h-5zM425 581h1v1h-1zM427 581h3v1h-3zM433 581h3v1h-3zM437 581h4v1h-4zM442 581h1v1h-1zM444 581h1v1h-1zM377 582h1v1h-1zM379 582h1v1h-1zM381 582h1v1h-1zM383 582h1v1h-1zM386 582h1v1h-1zM389 582h1v1h-1zM391 582h3v1h-3zM395 582h1v1h-1zM398 582h2v1h-2zM401 582h1v1h-1zM404 582h1v1h-1zM407 582h1v1h-1zM410 582h1v1h-1zM413 582h1v1h-1zM415 582h2v1h-2zM422 582h2v1h-2zM425 582h3v1h-3zM431 582h1v1h-1zM437 582h1v1h-1zM440 582h1v1h-1zM443 582h1v1h-1zM445 582h1v1h-1zM377 583h1v1h-1zM379 583h2v1h-2zM383 583h1v1h-1zM386 583h1v1h-1zM388 583h2v1h-2zM392 583h1v1h-1zM395 583h1v1h-1zM398 583h2v1h-2zM401 583h1v1h-1zM404 583h5v1h-5zM410 583h1v1h-1zM412 583h2v1h-2zM416 583h1v1h-1zM419 583h1v1h-1zM423 583h4v1h-4zM428 583h1v1h-1zM434 583h1v1h-1zM437 583h1v1h-1zM439 583h5v1h-5zM445 583h1v1h-1zM377 584h1v1h-1zM379 584h2v1h-2zM385 584h3v1h-3zM389 584h3v1h-3zM395 584h3v1h-3zM399 584h5v1h-5zM405 584h2v1h-2zM408 584h1v1h-1zM410 584h3v1h-3zM415 584h3v1h-3zM422 584h2v1h-2zM426 584h1v1h-1zM430 584h3v1h-3zM434 584h1v1h-1zM438 584h6v1h-6zM445 584h1v1h-1zM377 585h1v1h-1zM379 585h1v1h-1zM381 585h1v1h-1zM384 585h2v1h-2zM387 585h1v1h-1zM390 585h1v1h-1zM393 585h1v1h-1zM395 585h5v1h-5zM402 585h1v1h-1zM405 585h1v1h-1zM408 585h2v1h-2zM411 585h1v1h-1zM414 585h1v1h-1zM417 585h1v1h-1zM420 585h1v1h-1zM423 585h1v1h-1zM425 585h2v1h-2zM429 585h1v1h-1zM432 585h1v1h-1zM435 585h1v1h-1zM438 585h2v1h-2zM441 585h3v1h-3zM445 585h1v1h-1zM377 586h1v1h-1zM379 586h1v1h-1zM381 586h1v1h-1zM383 586h2v1h-2zM387 586h1v1h-1zM390 586h1v1h-1zM393 586h1v1h-1zM395 586h5v1h-5zM401 586h3v1h-3zM405 586h1v1h-1zM408 586h1v1h-1zM411 586h2v1h-2zM414 586h1v1h-1zM416 586h3v1h-3zM420 586h1v1h-1zM423 586h2v1h-2zM426 586h1v1h-1zM432 586h1v1h-1zM435 586h1v1h-1zM438 586h2v1h-2zM441 586h1v1h-1zM443 586h1v1h-1zM445 586h1v1h-1zM377 587h1v1h-1zM379 587h1v1h-1zM383 587h8v1h-8zM393 587h3v1h-3zM397 587h1v1h-1zM399 587h1v1h-1zM402 587h6v1h-6zM409 587h1v1h-1zM412 587h1v1h-1zM414 587h4v1h-4zM420 587h8v1h-8zM429 587h2v1h-2zM434 587h1v1h-1zM436 587h1v1h-1zM438 587h1v1h-1zM440 587h1v1h-1zM443 587h1v1h-1zM445 587h1v1h-1zM377 588h1v1h-1zM379 588h2v1h-2zM383 588h1v1h-1zM386 588h1v1h-1zM389 588h1v1h-1zM392 588h4v1h-4zM398 588h2v1h-2zM401 588h2v1h-2zM404 588h1v1h-1zM407 588h1v1h-1zM409 588h2v1h-2zM413 588h1v1h-1zM422 588h1v1h-1zM425 588h1v1h-1zM428 588h1v1h-1zM431 588h1v1h-1zM433 588h1v1h-1zM437 588h1v1h-1zM440 588h1v1h-1zM442 588h2v1h-2zM445 588h1v1h-1zM377 589h1v1h-1zM379 589h2v1h-2zM382 589h2v1h-2zM386 589h1v1h-1zM389 589h4v1h-4zM395 589h1v1h-1zM398 589h1v1h-1zM401 589h1v1h-1zM404 589h1v1h-1zM407 589h1v1h-1zM410 589h1v1h-1zM413 589h4v1h-4zM419 589h1v1h-1zM422 589h2v1h-2zM425 589h1v1h-1zM428 589h1v1h-1zM431 589h1v1h-1zM434 589h2v1h-2zM437 589h5v1h-5zM443 589h1v1h-1zM445 589h1v1h-1zM377 590h1v1h-1zM379 590h3v1h-3zM385 590h3v1h-3zM389 590h12v1h-12zM402 590h1v1h-1zM404 590h1v1h-1zM406 590h5v1h-5zM413 590h1v1h-1zM415 590h4v1h-4zM420 590h6v1h-6zM427 590h1v1h-1zM430 590h2v1h-2zM437 590h1v1h-1zM439 590h5v1h-5zM445 590h1v1h-1zM377 591h1v1h-1zM379 591h1v1h-1zM381 591h2v1h-2zM384 591h1v1h-1zM387 591h4v1h-4zM392 591h2v1h-2zM395 591h2v1h-2zM399 591h1v1h-1zM402 591h2v1h-2zM408 591h1v1h-1zM411 591h4v1h-4zM420 591h1v1h-1zM423 591h1v1h-1zM426 591h1v1h-1zM429 591h1v1h-1zM432 591h1v1h-1zM435 591h1v1h-1zM437 591h3v1h-3zM441 591h1v1h-1zM443 591h1v1h-1zM445 591h1v1h-1zM377 592h1v1h-1zM379 592h3v1h-3zM387 592h7v1h-7zM396 592h2v1h-2zM399 592h5v1h-5zM405 592h1v1h-1zM411 592h1v1h-1zM414 592h1v1h-1zM417 592h1v1h-1zM423 592h1v1h-1zM426 592h2v1h-2zM429 592h4v1h-4zM435 592h7v1h-7zM443 592h1v1h-1zM445 592h1v1h-1zM377 593h1v1h-1zM379 593h2v1h-2zM382 593h2v1h-2zM387 593h2v1h-2zM391 593h1v1h-1zM393 593h1v1h-1zM395 593h1v1h-1zM397 593h1v1h-1zM402 593h2v1h-2zM405 593h1v1h-1zM411 593h2v1h-2zM414 593h3v1h-3zM418 593h3v1h-3zM422 593h2v1h-2zM425 593h1v1h-1zM427 593h1v1h-1zM430 593h7v1h-7zM438 593h1v1h-1zM440 593h1v1h-1zM443 593h1v1h-1zM445 593h1v1h-1zM377 594h1v1h-1zM379 594h2v1h-2zM382 594h2v1h-2zM386 594h2v1h-2zM389 594h1v1h-1zM391 594h2v1h-2zM398 594h1v1h-1zM401 594h1v1h-1zM404 594h1v1h-1zM407 594h1v1h-1zM411 594h3v1h-3zM415 594h2v1h-2zM419 594h1v1h-1zM422 594h1v1h-1zM425 594h2v1h-2zM428 594h1v1h-1zM431 594h1v1h-1zM433 594h5v1h-5zM440 594h1v1h-1zM443 594h1v1h-1zM445 594h1v1h-1zM377 595h1v1h-1zM379 595h1v1h-1zM383 595h1v1h-1zM386 595h4v1h-4zM391 595h2v1h-2zM395 595h1v1h-1zM398 595h1v1h-1zM401 595h1v1h-1zM403 595h2v1h-2zM407 595h1v1h-1zM410 595h1v1h-1zM413 595h1v1h-1zM416 595h1v1h-1zM419 595h1v1h-1zM421 595h2v1h-2zM425 595h2v1h-2zM428 595h1v1h-1zM431 595h2v1h-2zM434 595h1v1h-1zM437 595h1v1h-1zM440 595h1v1h-1zM443 595h1v1h-1zM445 595h1v1h-1zM378 596h1v1h-1zM380 596h4v1h-4zM386 596h6v1h-6zM393 596h2v1h-2zM396 596h1v1h-1zM398 596h5v1h-5zM404 596h2v1h-2zM407 596h1v1h-1zM409 596h6v1h-6zM417 596h2v1h-2zM423 596h7v1h-7zM431 596h7v1h-7zM439 596h2v1h-2zM442 596h1v1h-1zM444 596h1v1h-1zM378 597h1v1h-1zM380 597h2v1h-2zM384 597h5v1h-5zM390 597h1v1h-1zM393 597h1v1h-1zM396 597h1v1h-1zM399 597h2v1h-2zM402 597h4v1h-4zM408 597h2v1h-2zM411 597h1v1h-1zM414 597h1v1h-1zM417 597h1v1h-1zM419 597h3v1h-3zM423 597h1v1h-1zM426 597h1v1h-1zM429 597h1v1h-1zM432 597h2v1h-2zM435 597h1v1h-1zM438 597h1v1h-1zM441 597h2v1h-2zM444 597h1v1h-1zM378 598h1v1h-1zM380 598h2v1h-2zM384 598h1v1h-1zM386 598h2v1h-2zM390 598h1v1h-1zM393 598h1v1h-1zM395 598h2v1h-2zM399 598h1v1h-1zM402 598h1v1h-1zM405 598h1v1h-1zM408 598h1v1h-1zM411 598h1v1h-1zM413 598h2v1h-2zM423 598h8v1h-8zM432 598h1v1h-1zM435 598h1v1h-1zM441 598h2v1h-2zM444 598h1v1h-1zM378 599h1v1h-1zM380 599h4v1h-4zM385 599h3v1h-3zM390 599h2v1h-2zM393 599h1v1h-1zM395 599h1v1h-1zM398 599h3v1h-3zM402 599h1v1h-1zM404 599h1v1h-1zM406 599h2v1h-2zM412 599h4v1h-4zM417 599h1v1h-1zM420 599h2v1h-2zM423 599h4v1h-4zM428 599h1v1h-1zM430 599h4v1h-4zM435 599h1v1h-1zM438 599h2v1h-2zM441 599h1v1h-1zM443 599h2v1h-2zM379 600h1v1h-1zM381 600h1v1h-1zM383 600h4v1h-4zM389 600h1v1h-1zM392 600h2v1h-2zM395 600h1v1h-1zM397 600h2v1h-2zM401 600h1v1h-1zM404 600h1v1h-1zM407 600h1v1h-1zM410 600h1v1h-1zM413 600h1v1h-1zM416 600h1v1h-1zM419 600h2v1h-2zM422 600h1v1h-1zM424 600h2v1h-2zM428 600h1v1h-1zM431 600h1v1h-1zM434 600h1v1h-1zM437 600h1v1h-1zM440 600h2v1h-2zM443 600h1v1h-1zM379 601h1v1h-1zM381 601h1v1h-1zM383 601h1v1h-1zM386 601h1v1h-1zM388 601h2v1h-2zM392 601h1v1h-1zM394 601h2v1h-2zM397 601h4v1h-4zM402 601h1v1h-1zM404 601h1v1h-1zM407 601h1v1h-1zM410 601h1v1h-1zM412 601h2v1h-2zM416 601h1v1h-1zM422 601h1v1h-1zM425 601h1v1h-1zM428 601h1v1h-1zM431 601h1v1h-1zM434 601h1v1h-1zM437 601h1v1h-1zM441 601h1v1h-1zM443 601h1v1h-1zM379 602h2v1h-2zM382 602h3v1h-3zM386 602h7v1h-7zM394 602h2v1h-2zM397 602h3v1h-3zM401 602h1v1h-1zM403 602h4v1h-4zM410 602h1v1h-1zM413 602h6v1h-6zM420 602h1v1h-1zM422 602h3v1h-3zM426 602h3v1h-3zM430 602h7v1h-7zM438 602h3v1h-3zM442 602h1v1h-1zM380 603h1v1h-1zM382 603h1v1h-1zM384 603h1v1h-1zM387 603h1v1h-1zM390 603h1v1h-1zM393 603h1v1h-1zM397 603h1v1h-1zM399 603h3v1h-3zM403 603h1v1h-1zM405 603h1v1h-1zM408 603h1v1h-1zM411 603h5v1h-5zM417 603h1v1h-1zM420 603h1v1h-1zM423 603h1v1h-1zM428 603h3v1h-3zM432 603h1v1h-1zM435 603h1v1h-1zM438 603h1v1h-1zM440 603h1v1h-1zM442 603h1v1h-1zM380 604h2v1h-2zM383 604h2v1h-2zM386 604h3v1h-3zM390 604h1v1h-1zM393 604h1v1h-1zM396 604h1v1h-1zM398 604h2v1h-2zM402 604h1v1h-1zM405 604h1v1h-1zM408 604h1v1h-1zM411 604h5v1h-5zM417 604h1v1h-1zM420 604h1v1h-1zM422 604h2v1h-2zM426 604h1v1h-1zM429 604h1v1h-1zM432 604h2v1h-2zM435 604h1v1h-1zM437 604h3v1h-3zM441 604h2v1h-2zM381 605h1v1h-1zM383 605h1v1h-1zM386 605h3v1h-3zM391 605h1v1h-1zM393 605h6v1h-6zM400 605h3v1h-3zM407 605h6v1h-6zM414 605h2v1h-2zM417 605h1v1h-1zM419 605h4v1h-4zM424 605h1v1h-1zM426 605h1v1h-1zM428 605h3v1h-3zM432 605h6v1h-6zM439 605h1v1h-1zM441 605h1v1h-1zM382 606h1v1h-1zM384 606h3v1h-3zM388 606h2v1h-2zM392 606h1v1h-1zM395 606h1v1h-1zM398 606h5v1h-5zM404 606h1v1h-1zM407 606h1v1h-1zM409 606h3v1h-3zM413 606h1v1h-1zM415 606h11v1h-11zM428 606h1v1h-1zM431 606h1v1h-1zM434 606h1v1h-1zM438 606h1v1h-1zM440 606h1v1h-1zM382 607h1v1h-1zM385 607h2v1h-2zM388 607h2v1h-2zM394 607h2v1h-2zM399 607h6v1h-6zM407 607h1v1h-1zM410 607h2v1h-2zM413 607h1v1h-1zM416 607h2v1h-2zM419 607h1v1h-1zM423 607h4v1h-4zM428 607h1v1h-1zM431 607h1v1h-1zM433 607h5v1h-5zM440 607h1v1h-1zM383 608h1v1h-1zM385 608h1v1h-1zM387 608h1v1h-1zM392 608h4v1h-4zM397 608h4v1h-4zM403 608h2v1h-2zM406 608h3v1h-3zM410 608h1v1h-1zM412 608h4v1h-4zM419 608h1v1h-1zM421 608h13v1h-13zM435 608h3v1h-3zM439 608h1v1h-1zM383 609h2v1h-2zM386 609h1v1h-1zM388 609h1v1h-1zM390 609h1v1h-1zM393 609h2v1h-2zM396 609h1v1h-1zM398 609h2v1h-2zM402 609h1v1h-1zM405 609h1v1h-1zM408 609h1v1h-1zM411 609h1v1h-1zM414 609h1v1h-1zM416 609h5v1h-5zM422 609h8v1h-8zM432 609h2v1h-2zM436 609h1v1h-1zM438 609h1v1h-1zM384 610h2v1h-2zM387 610h1v1h-1zM390 610h2v1h-2zM393 610h1v1h-1zM396 610h1v1h-1zM398 610h3v1h-3zM402 610h4v1h-4zM408 610h3v1h-3zM413 610h2v1h-2zM417 610h1v1h-1zM419 610h11v1h-11zM432 610h2v1h-2zM435 610h1v1h-1zM437 610h2v1h-2zM385 611h1v1h-1zM388 611h3v1h-3zM392 611h2v1h-2zM397 611h1v1h-1zM399 611h3v1h-3zM404 611h1v1h-1zM406 611h8v1h-8zM415 611h2v1h-2zM418 611h7v1h-7zM426 611h1v1h-1zM429 611h4v1h-4zM434 611h1v1h-1zM437 611h1v1h-1zM386 612h1v1h-1zM389 612h1v1h-1zM392 612h1v1h-1zM395 612h2v1h-2zM398 612h1v1h-1zM401 612h1v1h-1zM403 612h6v1h-6zM410 612h1v1h-1zM416 612h2v1h-2zM419 612h1v1h-1zM421 612h8v1h-8zM430 612h2v1h-2zM433 612h1v1h-1zM436 612h1v1h-1zM387 613h1v1h-1zM390 613h1v1h-1zM392 613h1v1h-1zM395 613h1v1h-1zM398 613h1v1h-1zM401 613h2v1h-2zM407 613h1v1h-1zM409 613h2v1h-2zM412 613h5v1h-5zM419 613h1v1h-1zM422 613h1v1h-1zM425 613h2v1h-2zM428 613h3v1h-3zM432 613h1v1h-1zM435 613h1v1h-1zM388 614h1v1h-1zM391 614h2v1h-2zM395 614h3v1h-3zM399 614h3v1h-3zM404 614h1v1h-1zM406 614h2v1h-2zM409 614h5v1h-5zM415 614h10v1h-10zM426 614h1v1h-1zM429 614h3v1h-3zM433 614h2v1h-2zM389 615h2v1h-2zM392 615h2v1h-2zM396 615h1v1h-1zM399 615h1v1h-1zM401 615h3v1h-3zM405 615h2v1h-2zM408 615h1v1h-1zM411 615h1v1h-1zM413 615h2v1h-2zM416 615h2v1h-2zM420 615h1v1h-1zM423 615h1v1h-1zM426 615h1v1h-1zM429 615h2v1h-2zM432 615h2v1h-2zM390 616h2v1h-2zM394 616h3v1h-3zM399 616h1v1h-1zM402 616h1v1h-1zM405 616h2v1h-2zM408 616h2v1h-2zM411 616h1v1h-1zM414 616h1v1h-1zM416 616h2v1h-2zM420 616h2v1h-2zM423 616h1v1h-1zM426 616h3v1h-3zM431 616h2v1h-2zM392 617h2v1h-2zM396 617h4v1h-4zM401 617h3v1h-3zM405 617h1v1h-1zM407 617h7v1h-7zM415 617h3v1h-3zM420 617h2v1h-2zM423 617h4v1h-4zM429 617h2v1h-2zM393 618h2v1h-2zM397 618h3v1h-3zM401 618h1v1h-1zM403 618h2v1h-2zM407 618h2v1h-2zM410 618h1v1h-1zM416 618h1v1h-1zM419 618h1v1h-1zM423 618h2v1h-2zM428 618h2v1h-2zM395 619h2v1h-2zM400 619h3v1h-3zM404 619h2v1h-2zM407 619h4v1h-4zM412 619h2v1h-2zM416 619h1v1h-1zM420 619h3v1h-3zM426 619h2v1h-2zM397 620h3v1h-3zM403 620h5v1h-5zM414 620h6v1h-6zM423 620h3v1h-3zM399 621h4v1h-4zM408 621h7v1h-7zM420 621h3v1h-3zM403 622h5v1h-5zM415 622h5v1h-5zM408 623h7v1h-7z"/>
<text filter="url(#th)" transform="translate(490.39 669.62) rotate(-90)" font-size="10.6" text-anchor="start" fill="#fff" font-weight="bold" stroke="#000" stroke-width="0.85">EdgeAIPC</text>
<path fill="#000" d="M547 489h35v1h-35zM547 490h1v1h-1zM546 491h1v1h-1zM546 492h1v1h-1zM545 493h1v1h-1zM544 495h1v1h-1zM543 496h1v1h-1zM543 497h1v1h-1zM542 498h1v1h-1zM541 501h1v1h-1zM541 502h1v1h-1zM540 503h1v1h-1zM582 490h1v1h-1zM583 491h1v1h-1zM583 492h1v1h-1zM584 493h1v1h-1zM585 495h1v1h-1zM586 496h1v1h-1zM586 497h1v1h-1zM587 498h1v1h-1zM588 501h1v1h-1zM588 502h1v1h-1zM589 503h1v1h-1zM540 504h1v172h-1zM589 503h1v173h-1zM540 676h1v1h-1zM541 677h1v1h-1zM541 678h1v1h-1zM542 679h1v1h-1zM544 681h1v1h-1zM544 682h1v1h-1zM545 683h1v1h-1zM546 684h1v1h-1zM547 687h1v1h-1zM548 688h1v1h-1zM589 676h1v1h-1zM588 677h1v1h-1zM588 678h1v1h-1zM587 679h1v1h-1zM586 681h1v1h-1zM585 682h1v1h-1zM585 683h1v1h-1zM584 684h1v1h-1zM583 687h1v1h-1zM582 688h1v1h-1zM555 688h23v1h-23zM550 683h1v6h-1zM553 683h1v6h-1zM551 682h2v1h-2zM551 681h1v1h-1zM576 683h1v6h-1zM579 683h1v6h-1zM577 682h2v1h-2zM577 681h1v1h-1z"/>
<path d="M551.27 492.41 L553.23 492.41 L553.23 497.76 L554.21 498.74 L554.21 500.20 L553.23 501.17 L550.29 501.17 L549.31 500.20 L549.31 498.74 L550.29 497.76 L550.29 493.38 L551.27 492.41" fill="none" stroke="#000" stroke-width="1"/>
<path d="M577.73 492.41 L579.69 492.41 L579.69 497.76 L580.67 498.74 L580.67 500.20 L579.69 501.17 L576.75 501.17 L575.77 500.20 L575.77 498.74 L576.75 497.76 L576.75 493.38 L577.73 492.41" fill="none" stroke="#000" stroke-width="1"/>
<path fill="#000" d="M553 508h4v1h-4zM552 508h6v1h-6zM552 509h6v1h-6zM552 510h2v1h-2zM555 510h1v1h-1zM557 510h1v1h-1zM552 511h6v1h-6zM553 512h4v1h-4zM578 508h4v1h-4zM577 508h6v1h-6zM577 509h6v1h-6zM577 510h2v1h-2zM580 510h1v1h-1zM582 510h1v1h-1zM577 511h6v1h-6zM578 512h4v1h-4zM553 664h4v1h-4zM552 665h6v1h-6zM552 666h6v1h-6zM552 667h2v1h-2zM555 667h1v1h-1zM557 667h1v1h-1zM552 668h6v1h-6zM553 669h4v1h-4zM578 664h4v1h-4zM577 665h6v1h-6zM577 666h6v1h-6zM577 667h2v1h-2zM580 667h1v1h-1zM582 667h1v1h-1zM577 668h6v1h-6zM578 669h4v1h-4zM624 502h136v2h-136zM624 674h136v2h-136zM624 502h1v174h-1zM629 502h2v174h-2zM750 502h3v174h-3zM757 489h1v200h-1zM759 489h1v200h-1zM757 489h3v2h-3zM757 687h3v2h-3zM622 508h1v7h-1zM622 508h3v1h-3zM622 514h3v1h-3zM646 501h7v1h-7z"/>
<path fill="#555" d="M625 500h7v1h-7z"/>
<path fill="#000" d="M625 500h1v2h-1zM631 500h1v2h-1z"/>
<path fill="#555" d="M751 500h6v1h-6z"/>
<path fill="#000" d="M751 500h1v2h-1zM756 500h1v2h-1z"/>
<path fill="#555" d="M625 677h6v1h-6z"/>
<path fill="#000" d="M625 676h1v2h-1zM630 676h1v2h-1z"/>
<path fill="#555" d="M647 677h7v1h-7z"/>
<path fill="#000" d="M647 676h1v2h-1zM653 676h1v2h-1z"/>
<path fill="#555" d="M751 677h6v1h-6z"/>
<path fill="#000" d="M751 676h1v2h-1zM756 676h1v2h-1zM361 722h1v51h-1zM361 722h137v1h-137zM497 722h1v50h-1zM363 722h1v51h-1zM362 729h1v2h-1zM362 753h1v2h-1zM362 765h1v2h-1zM361 755h98v18h-98z"/>
<path fill="#fff" d="M364 771h4v1h-4zM369 771h4v1h-4zM375 771h4v1h-4zM380 771h4v1h-4zM386 771h4v1h-4zM391 771h4v1h-4zM397 771h4v1h-4zM402 771h4v1h-4zM408 771h4v1h-4zM413 771h4v1h-4zM419 771h4v1h-4zM424 771h4v1h-4zM430 771h4v1h-4zM435 771h4v1h-4zM441 771h4v1h-4zM446 771h4v1h-4zM452 771h3v1h-3zM364 756h3v13h-3zM362 767h1v4h-1zM362 761h1v4h-1zM362 756h1v4h-1zM368 761h1v9h-1zM368 769h3v1h-3zM372 756h2v14h-2zM378 756h1v13h-1zM378 769h3v1h-3zM378 756h2v8h-2zM383 756h2v7h-2zM388 756h2v14h-2zM389 756h1v4h-1zM392 760h1v9h-1zM395 756h2v14h-2zM398 756h1v8h-1zM401 761h1v9h-1zM401 769h2v1h-2zM404 756h2v14h-2zM410 756h1v13h-1zM410 769h3v1h-3zM411 756h2v8h-2zM416 756h2v7h-2zM421 756h2v14h-2zM422 756h1v4h-1zM425 760h1v9h-1zM428 756h1v14h-1zM431 756h1v8h-1zM433 761h1v9h-1zM433 769h3v1h-3zM437 756h2v14h-2zM443 756h1v13h-1zM443 769h3v1h-3zM444 756h2v8h-2zM449 756h2v7h-2zM454 756h2v14h-2zM454 756h1v4h-1z"/>
<path fill="#aaa" d="M376 758h2v1h-2zM387 758h2v1h-2zM398 758h2v1h-2zM409 758h2v1h-2zM421 758h2v1h-2zM432 758h2v1h-2zM443 758h2v1h-2zM454 758h2v1h-2z"/>
<path fill="#000" d="M459 755h3v1h-3z"/>
<line x1="461.25" y1="755.13" x2="465.16" y2="771.74" stroke="#000" stroke-width="1"/>
<path fill="#000" d="M466 772h31v1h-31zM496 771h1v1h-1zM498 732h1v8h-1zM366 723h1v1h-1zM364 724h4v1h-4zM364 725h5v1h-5zM364 726h4v1h-4zM365 727h3v1h-3zM365 750h3v1h-3zM364 751h5v1h-5zM364 752h5v1h-5zM365 753h3v1h-3zM493 723h2v1h-2zM491 724h5v1h-5zM491 725h5v1h-5zM491 726h5v1h-5zM492 727h3v1h-3z"/>
<path fill="#fff" d="M493 725h1v1h-1z"/>
<path fill="#000" d="M492 766h3v1h-3zM491 767h5v1h-5zM491 768h5v1h-5zM492 769h3v1h-3z"/>
<path fill="#fff" d="M493 768h1v1h-1z"/>
<path fill="#000" d="M378 728h8v3h-8zM381 732h3v1h-3zM380 733h5v1h-5zM379 734h7v1h-7zM379 735h7v1h-7zM379 736h7v1h-7zM379 737h7v1h-7zM380 738h5v1h-5z"/>
<path fill="#fff" d="M381 735h2v2h-2z"/>
<path fill="#000" d="M389 732h33v11h-33zM400 728h10v3h-10z"/>
<path fill="#fff" d="M390 733h2v1h-2zM418 733h2v1h-2zM390 737h2v3h-2zM418 737h2v3h-2zM390 741h2v1h-2zM418 741h2v1h-2zM395 740h1v1h-1zM401 740h1v1h-1zM407 740h1v1h-1zM413 740h1v1h-1z"/>
<path fill="#000" d="M424 732h32v11h-32zM435 728h9v3h-9z"/>
<path fill="#fff" d="M425 733h2v1h-2zM452 733h2v1h-2zM425 737h2v3h-2zM452 737h2v3h-2zM425 741h2v1h-2zM452 741h2v1h-2zM429 740h1v1h-1zM435 740h1v1h-1zM441 740h1v1h-1zM447 740h1v1h-1z"/>
<path fill="#000" d="M468 728h6v3h-6zM467 732h8v9h-8z"/>
<path fill="#fff" d="M470 734h1v1h-1zM472 734h1v1h-1zM469 739h5v1h-5z"/>
<path fill="#000" d="M470 744h2v1h-2zM469 745h2v1h-2zM472 745h1v1h-1zM468 746h2v1h-2zM473 746h1v1h-1zM468 747h1v1h-1zM473 747h1v1h-1zM468 748h2v1h-2zM473 748h1v1h-1zM469 749h2v1h-2zM472 749h2v1h-2zM470 750h3v1h-3zM470 759h2v1h-2zM469 760h2v1h-2zM472 760h1v1h-1zM468 761h2v1h-2zM473 761h1v1h-1zM468 761h1v1h-1zM473 761h1v1h-1zM468 762h2v1h-2zM473 762h1v1h-1zM469 763h2v1h-2zM472 763h2v1h-2zM470 764h3v1h-3zM472 752h1v1h-1zM471 753h2v1h-2zM470 754h4v1h-4zM471 755h3v1h-3zM472 766h1v1h-1zM471 767h2v1h-2zM470 768h4v1h-4zM471 769h3v1h-3zM485 744h3v1h-3zM484 745h2v1h-2zM488 745h1v1h-1zM483 746h2v1h-2zM489 746h1v1h-1zM483 747h1v1h-1zM489 747h1v1h-1zM483 748h2v1h-2zM489 748h1v1h-1zM484 749h2v1h-2zM488 749h2v1h-2zM485 750h4v1h-4zM485 759h3v1h-3zM484 760h2v1h-2zM488 760h1v1h-1zM483 761h2v1h-2zM489 761h1v1h-1zM483 761h1v1h-1zM489 761h1v1h-1zM483 762h2v1h-2zM489 762h1v1h-1zM484 763h2v1h-2zM488 763h2v1h-2zM485 764h4v1h-4zM486 752h1v1h-1zM485 753h3v1h-3zM484 754h5v1h-5zM485 755h4v1h-4zM486 766h1v1h-1zM485 767h3v1h-3zM484 768h5v1h-5zM485 769h4v1h-4z"/>
<path fill="#d8b070" d="M382 454h1v15h-1z"/>
<path fill="#f0891e" d="M381 450h4v4h-4z"/>
<text filter="url(#th)" transform="translate(382.50 474.00) scale(0.9 1)" font-size="5.6" text-anchor="middle" fill="#000" font-weight="normal" stroke="#000" stroke-width="0.25" letter-spacing="0.2">TF</text>
<path fill="#d8b070" d="M398 454h1v15h-1z"/>
<path fill="#f0891e" d="M397 450h4v4h-4z"/>
<text filter="url(#th)" transform="translate(398.50 474.00) scale(0.9 1)" font-size="5.6" text-anchor="middle" fill="#000" font-weight="normal" stroke="#000" stroke-width="0.25" letter-spacing="0.2">SIM</text>
<path fill="#d8b070" d="M412 454h1v15h-1z"/>
<path fill="#f0891e" d="M411 450h4v4h-4z"/>
<text filter="url(#th)" transform="translate(412.50 474.00) scale(0.9 1)" font-size="5.6" text-anchor="middle" fill="#000" font-weight="normal" stroke="#000" stroke-width="0.25" letter-spacing="0.2">SIM</text>
<path fill="#d8b070" d="M435 454h1v15h-1z"/>
<path fill="#f0891e" d="M434 450h4v4h-4z"/>
<text filter="url(#th)" transform="translate(435.50 474.00) scale(0.9 1)" font-size="5.6" text-anchor="middle" fill="#000" font-weight="normal" stroke="#000" stroke-width="0.25" letter-spacing="0.2">OTG</text>
<path fill="#d8b070" d="M447 454h1v23h-1z"/>
<path fill="#f0891e" d="M446 450h4v4h-4z"/>
<text filter="url(#th)" transform="translate(447.50 482.00) scale(0.9 1)" font-size="5.6" text-anchor="middle" fill="#000" font-weight="normal" stroke="#000" stroke-width="0.25" letter-spacing="0.2">Debug</text>
<path fill="#d8b070" d="M255 511h43v1h-43z"/>
<text filter="url(#th)" transform="translate(254.70 513.00) scale(0.76 1)" font-size="7.2" text-anchor="end" fill="#000" font-weight="normal" stroke="#000" stroke-width="0.35" letter-spacing="0.75">On/Off</text>
<path fill="#d8b070" d="M255 523h40v1h-40z"/>
<text filter="url(#th)" transform="translate(254.70 525.00) scale(0.76 1)" font-size="7.2" text-anchor="end" fill="#000" font-weight="normal" stroke="#000" stroke-width="0.35" letter-spacing="0.75">HDMI</text>
<path fill="#d8b070" d="M255 552h24v1h-24z"/>
<text filter="url(#th)" transform="translate(254.70 554.00) scale(0.76 1)" font-size="7.2" text-anchor="end" fill="#000" font-weight="normal" stroke="#000" stroke-width="0.35" letter-spacing="0.75">GbE</text>
<path fill="#d8b070" d="M255 584h22v1h-22z"/>
<text filter="url(#th)" transform="translate(254.70 586.00) scale(0.76 1)" font-size="7.2" text-anchor="end" fill="#000" font-weight="normal" stroke="#000" stroke-width="0.35" letter-spacing="0.75">GbE</text>
<path fill="#d8b070" d="M255 611h22v1h-22z"/>
<text filter="url(#th)" transform="translate(254.70 613.00) scale(0.76 1)" font-size="7.2" text-anchor="end" fill="#000" font-weight="normal" stroke="#000" stroke-width="0.35" letter-spacing="0.75">10GbE</text>
<path fill="#d8b070" d="M255 638h17v1h-17z"/>
<text filter="url(#th)" transform="translate(254.70 640.00) scale(0.76 1)" font-size="7.2" text-anchor="end" fill="#000" font-weight="normal" stroke="#000" stroke-width="0.35" letter-spacing="0.75">USB 5Gbps</text>
<path fill="#d8b070" d="M255 662h30v1h-30z"/>
<text filter="url(#th)" transform="translate(254.70 664.00) scale(0.76 1)" font-size="7.2" text-anchor="end" fill="#000" font-weight="normal" stroke="#000" stroke-width="0.35" letter-spacing="0.75">DC_IN</text>
<path fill="#f0891e" d="M297 509h3v1h-3zM296 510h5v1h-5zM296 511h5v1h-5zM296 512h5v1h-5zM298 513h1v1h-1zM294 521h1v1h-1zM292 522h5v1h-5zM292 523h5v1h-5zM292 524h5v1h-5zM293 525h3v1h-3z"/>
<path d="M278.50 549.50 L281.50 552.50 L278.50 555.50 L275.50 552.50 Z" fill="#f0891e"/>
<path fill="#f0891e" d="M275 582h4v5h-4zM275 609h4v5h-4zM270 636h3v5h-3z"/>
<path d="M284.50 659.50 L287.50 662.50 L284.50 665.50 L281.50 662.50 Z" fill="#f0891e"/>
<path fill="#d8b070" d="M278 536h26v1h-26zM278 569h26v1h-26zM278 536h1v34h-1zM303 536h1v34h-1z"/>
<path fill="#b4552a" d="M287 604h17v1h-17zM287 619h17v1h-17zM287 604h1v16h-1zM303 604h1v16h-1z"/>
<path fill="#d8b070" d="M271 630h33v1h-33zM271 648h33v1h-33zM271 630h1v19h-1zM303 630h1v19h-1z"/>
<path fill="#b4552a" d="M284 653h19v1h-19zM284 672h19v1h-19zM284 653h1v20h-1zM302 653h1v20h-1z"/>
<path fill="#d8b070" d="M290 572h29v1h-29zM290 572h1v11h-1z"/>
<path fill="#f0891e" d="M288 582h4v5h-4z"/>
<text filter="url(#th)" transform="translate(319.50 574.00) scale(0.76 1)" font-size="7.2" text-anchor="start" fill="#000" font-weight="normal" stroke="#000" stroke-width="0.35" letter-spacing="0.75">USB 10Gbps</text>
<path fill="#d8b070" d="M298 584h21v1h-21z"/>
<path fill="#f0891e" d="M296 582h4v5h-4z"/>
<text filter="url(#th)" transform="translate(319.50 586.00) scale(0.76 1)" font-size="7.2" text-anchor="start" fill="#000" font-weight="normal" stroke="#000" stroke-width="0.35" letter-spacing="0.75">USB 5Gbps</text>
<path fill="#d8b070" d="M302 598h17v1h-17z"/>
<path fill="#f0891e" d="M299 596h4v4h-4z"/>
<text filter="url(#th)" transform="translate(319.50 600.00) scale(0.76 1)" font-size="7.2" text-anchor="start" fill="#000" font-weight="normal" stroke="#000" stroke-width="0.35" letter-spacing="0.75">Reset</text>
<path fill="#d8b070" d="M304 611h15v1h-15z"/>
<path fill="#f0891e" d="M301 609h3v1h-3zM300 610h5v1h-5zM300 611h5v1h-5zM300 612h5v1h-5zM301 613h3v1h-3z"/>
<text filter="url(#th)" transform="translate(319.50 613.00) scale(0.76 1)" font-size="7.2" text-anchor="start" fill="#000" font-weight="normal" stroke="#000" stroke-width="0.35" letter-spacing="0.75">USB 10Gbps</text>
<path fill="#d8b070" d="M302 626h17v1h-17z"/>
<path fill="#f0891e" d="M299 624h4v4h-4z"/>
<text filter="url(#th)" transform="translate(319.50 627.00) scale(0.76 1)" font-size="7.2" text-anchor="start" fill="#000" font-weight="normal" stroke="#000" stroke-width="0.35" letter-spacing="0.75">Recovery</text>
<path fill="#d8b070" d="M382 715h1v21h-1z"/>
<path fill="#f0891e" d="M381 733h3v1h-3zM380 734h5v1h-5zM380 735h5v1h-5zM380 736h5v1h-5zM380 737h5v1h-5zM382 738h1v1h-1z"/>
<text filter="url(#th)" transform="translate(382.50 714.00) scale(0.86 1)" font-size="5.6" text-anchor="middle" fill="#000" font-weight="normal" stroke="#000" stroke-width="0.25" letter-spacing="0.1">Audio</text>
<path fill="#d8b070" d="M405 715h1v22h-1z"/>
<path fill="#f0891e" d="M404 734h3v1h-3zM403 735h5v1h-5zM403 736h5v1h-5zM403 737h5v1h-5zM403 738h5v1h-5z"/>
<text filter="url(#th)" transform="translate(405.50 714.00) scale(0.86 1)" font-size="5.6" text-anchor="middle" fill="#000" font-weight="normal" stroke="#000" stroke-width="0.25" letter-spacing="0.1">COM/CAN</text>
<path fill="#d8b070" d="M439 715h1v22h-1z"/>
<path fill="#f0891e" d="M438 734h3v1h-3zM437 735h5v1h-5zM437 736h5v1h-5zM437 737h5v1h-5zM437 738h5v1h-5z"/>
<text filter="url(#th)" transform="translate(439.50 714.00) scale(0.86 1)" font-size="5.6" text-anchor="middle" fill="#000" font-weight="normal" stroke="#000" stroke-width="0.25" letter-spacing="0.1">DI/DO/SYNC</text>
<path fill="#d8b070" d="M471 715h1v21h-1z"/>
<path fill="#f0891e" d="M470 733h3v1h-3zM469 734h5v1h-5zM469 735h5v1h-5zM469 736h5v1h-5zM469 737h5v1h-5zM471 738h1v1h-1z"/>
<text filter="url(#th)" transform="translate(471.50 714.00) scale(0.86 1)" font-size="5.6" text-anchor="middle" fill="#000" font-weight="normal" stroke="#000" stroke-width="0.25" letter-spacing="0.1">PSON</text>
</svg>
</body></html>
